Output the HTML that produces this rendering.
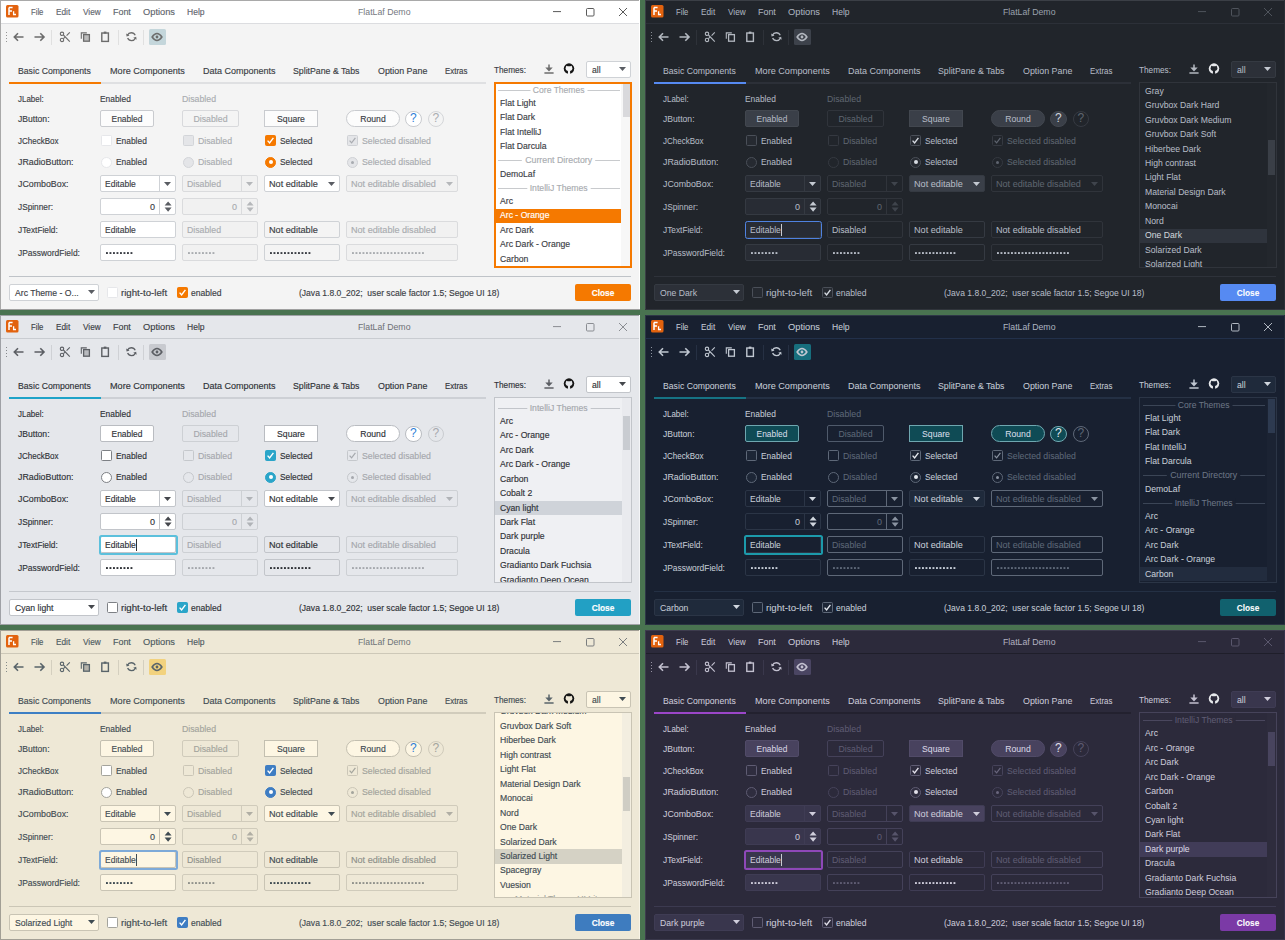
<!DOCTYPE html><html><head><meta charset="utf-8"><style>
html,body{margin:0;padding:0;width:1285px;height:940px;overflow:hidden;background:#497350;}
.panel{position:absolute;width:640px;height:310px;overflow:hidden;font-family:'Liberation Sans', sans-serif;}
.a{position:absolute;}
.t{position:absolute;font-family:'Liberation Sans', sans-serif;font-size:9px;line-height:10px;white-space:pre;transform-origin:0 0;-webkit-text-stroke-width:var(--sw);}
.c{text-align:center;}
</style></head><body>
<div class="panel" style="left:0px;top:0px;background:#f4f4f4;--sw:0.15px">
<div class="a" style="left:0px;top:0px;width:640px;height:24px;background:#ffffff;"></div>
<div class="a" style="left:0px;top:23px;width:640px;height:1px;background:#dcdde0;"></div>
<div class="a" style="left:0px;top:0px;width:640px;height:1px;background:#a9a9a9;"></div>
<div class="a" style="left:0px;top:0px;width:1px;height:310px;background:#a9a9a9;"></div>
<div class="a" style="left:639px;top:0px;width:1px;height:310px;background:#ffffff;"></div>
<div class="a" style="left:0px;top:309px;width:640px;height:1px;background:#a0a0a0;"></div>
<svg class="a" style="left:6px;top:5px;" width="13" height="13" viewBox="0 0 13 13"><rect x="0" y="0" width="12.5" height="12.5" rx="1.5" fill="#e2620e"/><path d="M3 2.6 H6.6 M3 2.6 V10 M3 5.9 H6" stroke="#fff" stroke-width="1.5" fill="none"/><path d="M7.6 6.2 V9.5 H10" stroke="#fff" stroke-width="1.3" fill="none"/></svg>
<div class="t" style="left:30.5px;top:7px;color:#5f656d;transform:scaleX(0.853);">File</div>
<div class="t" style="left:55.5px;top:7px;color:#5f656d;transform:scaleX(0.919);">Edit</div>
<div class="t" style="left:82.5px;top:7px;color:#5f656d;transform:scaleX(0.915);">View</div>
<div class="t" style="left:112.5px;top:7px;color:#5f656d;transform:scaleX(0.989);">Font</div>
<div class="t" style="left:142.5px;top:7px;color:#5f656d;transform:scaleX(1.032);">Options</div>
<div class="t" style="left:186.5px;top:7px;color:#5f656d;transform:scaleX(0.947);">Help</div>
<div class="t" style="left:357.5px;top:7px;color:#75797f;transform:scaleX(0.972);-webkit-text-stroke-width:0">FlatLaf Demo</div>
<svg class="a" style="left:550px;top:5px;" width="80" height="14" viewBox="0 0 80 14"><path d="M3 6.6 H11" stroke="#5a5a5a" stroke-width="1"/><rect x="36.5" y="3.5" width="7.5" height="7.5" rx="1" fill="none" stroke="#5a5a5a" stroke-width="1"/><path d="M69 3 L77 11 M77 3 L69 11" stroke="#5a5a5a" stroke-width="1"/></svg>
<div class="a" style="left:6px;top:32.2px;width:1.3px;height:1.3px;background:#6c6c6c;opacity:.7"></div>
<div class="a" style="left:6px;top:35.2px;width:1.3px;height:1.3px;background:#6c6c6c;opacity:.7"></div>
<div class="a" style="left:6px;top:38.2px;width:1.3px;height:1.3px;background:#6c6c6c;opacity:.7"></div>
<div class="a" style="left:6px;top:41.2px;width:1.3px;height:1.3px;background:#6c6c6c;opacity:.7"></div>
<svg class="a" style="left:12px;top:31px;" width="14" height="12" viewBox="0 0 14 12"><path d="M2.5 6 H11.5 M6 2.3 L2.3 6 L6 9.7" stroke="#6c6c6c" stroke-width="1.6" fill="none"/></svg>
<svg class="a" style="left:32px;top:31px;" width="14" height="12" viewBox="0 0 14 12"><path d="M2.5 6 H11.8 M8.3 2.3 L12 6 L8.3 9.7" stroke="#6c6c6c" stroke-width="1.6" fill="none"/></svg>
<div class="a" style="left:51px;top:29.5px;width:1px;height:15px;background:#e0e0e0;"></div>
<div class="a" style="left:117.5px;top:29.5px;width:1px;height:15px;background:#e0e0e0;"></div>
<div class="a" style="left:143px;top:29.5px;width:1px;height:15px;background:#e0e0e0;"></div>
<svg class="a" style="left:58px;top:30px;" width="14" height="14" viewBox="0 0 14 14"><circle cx="4" cy="3.8" r="1.7" fill="none" stroke="#6c6c6c" stroke-width="1.1"/><circle cx="4" cy="9.9" r="1.7" fill="none" stroke="#6c6c6c" stroke-width="1.1"/><path d="M5.4 5 L11.8 11.6 M5.4 8.7 L7.6 6.6 M8.6 5.6 L11.8 2.3" stroke="#6c6c6c" stroke-width="1.1" fill="none"/></svg>
<svg class="a" style="left:79px;top:30px;" width="13" height="13" viewBox="0 0 13 13"><path d="M2.3 8.7 V2.9 H7.8" stroke="#6c6c6c" stroke-width="1.1" fill="none"/><rect x="4.6" y="4.6" width="5.8" height="6.6" fill="#bdbdbd" stroke="#6c6c6c" stroke-width="1.3"/></svg>
<svg class="a" style="left:99px;top:30px;" width="13" height="13" viewBox="0 0 13 13"><rect x="2.8" y="3" width="6.6" height="8.4" fill="none" stroke="#6c6c6c" stroke-width="1.4"/><rect x="4.8" y="1.6" width="2.6" height="2" fill="#6c6c6c"/></svg>
<svg class="a" style="left:125px;top:30px;" width="13" height="13" viewBox="0 0 13 13"><path d="M2.4 5.2 A4.3 4.3 0 0 1 10.2 5.3" stroke="#6c6c6c" stroke-width="1.3" fill="none"/><path d="M10.4 8.2 A4.3 4.3 0 0 1 2.6 8.1" stroke="#6c6c6c" stroke-width="1.3" fill="none"/><path d="M1.2 3.6 L4.6 5.6 L1.6 6.6 Z" fill="#6c6c6c"/><path d="M11.6 9.8 L8.2 7.8 L11.2 6.8 Z" fill="#6c6c6c"/></svg>
<div class="a" style="left:148.5px;top:29px;width:17px;height:16px;background:#c4d6db;border-radius:1.5px;"></div>
<svg class="a" style="left:150px;top:31px;" width="14" height="12" viewBox="0 0 14 12"><path d="M2.1 6 Q7 -0.9 11.9 6 Q7 12.9 2.1 6 Z" fill="none" stroke="#6c6c6c" stroke-width="1.5"/><circle cx="7" cy="6" r="1.4" fill="#6c6c6c"/></svg>
<div class="t" style="left:18px;top:66px;color:#3b3e45;transform:scaleX(0.964);">Basic Components</div>
<div class="t" style="left:109.5px;top:66px;color:#3b3e45;transform:scaleX(1.011);">More Components</div>
<div class="t" style="left:203px;top:66px;color:#3b3e45;">Data Components</div>
<div class="t" style="left:292.5px;top:66px;color:#3b3e45;transform:scaleX(0.972);">SplitPane &amp; Tabs</div>
<div class="t" style="left:377.5px;top:66px;color:#3b3e45;transform:scaleX(0.986);">Option Pane</div>
<div class="t" style="left:445px;top:66px;color:#3b3e45;transform:scaleX(0.877);">Extras</div>
<div class="a" style="left:9px;top:82px;width:477px;height:2px;background:#dfe0e2;"></div>
<div class="a" style="left:9px;top:82px;width:92px;height:2px;background:#f57900;"></div>
<div class="t" style="left:17.5px;top:94px;color:#3b3e45;transform:scaleX(0.883);">JLabel:</div>
<div class="t" style="left:17.5px;top:114px;color:#3b3e45;transform:scaleX(0.955);">JButton:</div>
<div class="t" style="left:17.5px;top:136px;color:#3b3e45;transform:scaleX(0.891);">JCheckBox</div>
<div class="t" style="left:17.5px;top:157px;color:#3b3e45;transform:scaleX(0.982);">JRadioButton:</div>
<div class="t" style="left:17.5px;top:179px;color:#3b3e45;transform:scaleX(0.980);">JComboBox:</div>
<div class="t" style="left:17.5px;top:202px;color:#3b3e45;transform:scaleX(0.921);">JSpinner:</div>
<div class="t" style="left:17.5px;top:225px;color:#3b3e45;transform:scaleX(0.923);">JTextField:</div>
<div class="t" style="left:17.5px;top:248px;color:#3b3e45;transform:scaleX(0.938);">JPasswordField:</div>
<div class="t" style="left:99.5px;top:94px;color:#3b3e45;transform:scaleX(0.933);">Enabled</div>
<div class="t" style="left:181.5px;top:94px;color:#a9acb0;transform:scaleX(0.971);">Disabled</div>
<div class="a" style="left:100px;top:110px;width:54px;height:17px;background:#fcfcfc;border:1px solid #c9cbcf;border-radius:2px;box-sizing:border-box;"></div>
<div class="t c" style="left:100px;top:114px;width:54px;color:#3b3e45;transform:scaleX(0.933);transform-origin:50% 0;">Enabled</div>
<div class="a" style="left:182px;top:110px;width:57px;height:17px;background:#f4f4f4;border:1px solid #d8d9dc;border-radius:2px;box-sizing:border-box;"></div>
<div class="t c" style="left:182px;top:114px;width:57px;color:#a9acb0;transform:scaleX(0.971);transform-origin:50% 0;">Disabled</div>
<div class="a" style="left:264px;top:110px;width:54px;height:17px;background:#fcfcfc;border:1px solid #c9cbcf;box-sizing:border-box;"></div>
<div class="t c" style="left:264px;top:114px;width:54px;color:#3b3e45;transform:scaleX(0.960);transform-origin:50% 0;">Square</div>
<div class="a" style="left:346px;top:110px;width:54px;height:17px;background:#fcfcfc;border:1px solid #c9cbcf;border-radius:9px;box-sizing:border-box;"></div>
<div class="t c" style="left:346px;top:114px;width:54px;color:#3b3e45;transform:scaleX(0.960);transform-origin:50% 0;">Round</div>
<div class="a" style="left:405px;top:110.5px;width:16.5px;height:16.5px;background:#ffffff;border:1px solid #c9cbcf;border-radius:9px;box-sizing:border-box;"></div>
<div class="t c" style="left:405px;top:111.5px;width:16.5px;color:#2f7fd8;font-size:12px;line-height:13px;-webkit-text-stroke-width:0">?</div>
<div class="a" style="left:427.5px;top:110.5px;width:16.5px;height:16.5px;border:1px solid #d4d6d9;border-radius:9px;box-sizing:border-box;"></div>
<div class="t c" style="left:427.5px;top:111.5px;width:16.5px;color:#a9acb0;font-size:12px;line-height:13px;-webkit-text-stroke-width:0">?</div>
<div class="a" style="left:101px;top:135px;width:11px;height:11px;background:#ffffff;border:1px solid #e6e7ea;border-radius:1.5px;box-sizing:border-box;"></div>
<div class="t" style="left:115.5px;top:136px;color:#3b3e45;transform:scaleX(0.933);">Enabled</div>
<div class="a" style="left:101px;top:156.5px;width:11px;height:11px;background:#ffffff;border:1px solid #e6e7ea;border-radius:6px;box-sizing:border-box;"></div>
<div class="t" style="left:115.5px;top:157px;color:#3b3e45;transform:scaleX(0.933);">Enabled</div>
<div class="a" style="left:183px;top:135px;width:11px;height:11px;background:#e4e5e8;border:1px solid #d3d5d9;border-radius:1.5px;box-sizing:border-box;"></div>
<div class="t" style="left:197.5px;top:136px;color:#a9acb0;transform:scaleX(0.971);">Disabled</div>
<div class="a" style="left:183px;top:156.5px;width:11px;height:11px;background:#e4e5e8;border:1px solid #d3d5d9;border-radius:6px;box-sizing:border-box;"></div>
<div class="t" style="left:197.5px;top:157px;color:#a9acb0;transform:scaleX(0.971);">Disabled</div>
<div class="a" style="left:265px;top:135px;width:11px;height:11px;background:#f57900;border:1px solid #f57900;border-radius:1.5px;box-sizing:border-box;"></div>
<svg class="a" style="left:265px;top:135px;" width="11" height="11" viewBox="0 0 11 11"><path d="M2.6 5.6 L4.6 7.9 L8.4 2.8" stroke="#ffffff" stroke-width="1.4" fill="none"/></svg>
<div class="t" style="left:279.5px;top:136px;color:#3b3e45;transform:scaleX(0.926);">Selected</div>
<div class="a" style="left:265px;top:156.5px;width:11px;height:11px;background:#f57900;border:1px solid #f57900;border-radius:6px;box-sizing:border-box;"></div>
<div class="a" style="left:268.5px;top:160.0px;width:4px;height:4px;background:#ffffff;border-radius:2px;"></div>
<div class="t" style="left:279.5px;top:157px;color:#3b3e45;transform:scaleX(0.926);">Selected</div>
<div class="a" style="left:347px;top:135px;width:11px;height:11px;background:#e4e5e8;border:1px solid #cfd1d5;border-radius:1.5px;box-sizing:border-box;"></div>
<svg class="a" style="left:347px;top:135px;" width="11" height="11" viewBox="0 0 11 11"><path d="M2.6 5.6 L4.6 7.9 L8.4 2.8" stroke="#a8abb0" stroke-width="1.2" fill="none"/></svg>
<div class="t" style="left:361.5px;top:136px;color:#a9acb0;transform:scaleX(0.969);">Selected disabled</div>
<div class="a" style="left:347px;top:156.5px;width:11px;height:11px;background:#e4e5e8;border:1px solid #cfd1d5;border-radius:6px;box-sizing:border-box;"></div>
<div class="a" style="left:351px;top:160.5px;width:3px;height:3px;background:#a8abb0;border-radius:2px;"></div>
<div class="t" style="left:361.5px;top:157px;color:#a9acb0;transform:scaleX(0.969);">Selected disabled</div>
<div class="a" style="left:100px;top:175px;width:76px;height:17px;background:#ffffff;border:1px solid #cfd2d6;border-radius:2px;box-sizing:border-box;"></div>
<div class="a" style="left:159px;top:176px;width:1px;height:15px;background:#cfd2d6;"></div>
<svg class="a" style="left:163.1px;top:180.75px;" width="9.0" height="5.9" viewBox="0 0 9.0 5.9"><path d="M1 1 L8.0 1 L4.5 4.9 Z" fill="#5a5d63"/></svg>
<div class="t" style="left:105px;top:179px;color:#3b3e45;transform:scaleX(0.948);">Editable</div>
<div class="a" style="left:182px;top:175px;width:76px;height:17px;background:#f1f1f1;border:1px solid #dadbdd;border-radius:2px;box-sizing:border-box;"></div>
<div class="a" style="left:241px;top:176px;width:1px;height:15px;background:#dadbdd;"></div>
<svg class="a" style="left:245.1px;top:180.75px;" width="9.0" height="5.9" viewBox="0 0 9.0 5.9"><path d="M1 1 L8.0 1 L4.5 4.9 Z" fill="#b5b7ba"/></svg>
<div class="t" style="left:187px;top:179px;color:#a9acb0;transform:scaleX(0.971);">Disabled</div>
<div class="a" style="left:264px;top:175px;width:76px;height:17px;background:#ffffff;border:1px solid #cfd2d6;border-radius:2px;box-sizing:border-box;"></div>
<svg class="a" style="left:327.1px;top:180.75px;" width="9.0" height="5.9" viewBox="0 0 9.0 5.9"><path d="M1 1 L8.0 1 L4.5 4.9 Z" fill="#5a5d63"/></svg>
<div class="t" style="left:269px;top:179px;color:#3b3e45;transform:scaleX(1.015);">Not editable</div>
<div class="a" style="left:346px;top:175px;width:112px;height:17px;background:#f1f1f1;border:1px solid #dadbdd;border-radius:2px;box-sizing:border-box;"></div>
<svg class="a" style="left:444.9px;top:180.75px;" width="9.0" height="5.9" viewBox="0 0 9.0 5.9"><path d="M1 1 L8.0 1 L4.5 4.9 Z" fill="#b5b7ba"/></svg>
<div class="t" style="left:351px;top:179px;color:#a9acb0;transform:scaleX(1.010);">Not editable disabled</div>
<div class="a" style="left:100px;top:198px;width:76px;height:17px;background:#ffffff;border:1px solid #cfd2d6;border-radius:2px;box-sizing:border-box;"></div>
<div class="a" style="left:159px;top:199px;width:1px;height:15px;background:#cfd2d6;"></div>
<svg class="a" style="left:163.5px;top:200px;" width="9" height="13" viewBox="0 0 9 13"><path d="M0.6 5.6 L4.1 1.4 L7.6 5.6 Z M0.6 7.5 L4.1 11.7 L7.6 7.5 Z" fill="#5a5d63"/></svg>
<div class="t" style="left:100px;top:202px;width:55px;text-align:right;color:#3b3e45">0</div>
<div class="a" style="left:182px;top:198px;width:76px;height:17px;background:#f1f1f1;border:1px solid #dadbdd;border-radius:2px;box-sizing:border-box;"></div>
<div class="a" style="left:241px;top:199px;width:1px;height:15px;background:#dadbdd;"></div>
<svg class="a" style="left:245.5px;top:200px;" width="9" height="13" viewBox="0 0 9 13"><path d="M0.6 5.6 L4.1 1.4 L7.6 5.6 Z M0.6 7.5 L4.1 11.7 L7.6 7.5 Z" fill="#b5b7ba"/></svg>
<div class="t" style="left:182px;top:202px;width:55px;text-align:right;color:#a9acb0">0</div>
<div class="a" style="left:100px;top:221px;width:76px;height:17px;background:#ffffff;border:1px solid #cfd2d6;border-radius:2px;box-sizing:border-box;"></div>
<div class="t" style="left:105px;top:225px;color:#3b3e45;transform:scaleX(0.948);">Editable</div>
<div class="a" style="left:182px;top:221px;width:76px;height:17px;background:#f1f1f1;border:1px solid #dadbdd;border-radius:2px;box-sizing:border-box;"></div>
<div class="t" style="left:187px;top:225px;color:#a9acb0;transform:scaleX(0.971);">Disabled</div>
<div class="a" style="left:264px;top:221px;width:76px;height:17px;background:#f4f4f4;border:1px solid #cfd2d6;border-radius:2px;box-sizing:border-box;"></div>
<div class="t" style="left:269px;top:225px;color:#3b3e45;transform:scaleX(1.015);">Not editable</div>
<div class="a" style="left:346px;top:221px;width:112px;height:17px;background:#f1f1f1;border:1px solid #dadbdd;border-radius:2px;box-sizing:border-box;"></div>
<div class="t" style="left:351px;top:225px;color:#a9acb0;transform:scaleX(1.010);">Not editable disabled</div>
<div class="a" style="left:100px;top:244px;width:76px;height:17px;background:#ffffff;border:1px solid #cfd2d6;border-radius:2px;box-sizing:border-box;"></div>
<svg class="a" style="left:105px;top:251.8px;" width="31.6" height="3" viewBox="0 0 31.6 3"><rect x="1.00" y="0.1" width="1.9" height="1.9" fill="#3b3e45"/><rect x="4.50" y="0.1" width="1.9" height="1.9" fill="#3b3e45"/><rect x="8.00" y="0.1" width="1.9" height="1.9" fill="#3b3e45"/><rect x="11.50" y="0.1" width="1.9" height="1.9" fill="#3b3e45"/><rect x="15.00" y="0.1" width="1.9" height="1.9" fill="#3b3e45"/><rect x="18.50" y="0.1" width="1.9" height="1.9" fill="#3b3e45"/><rect x="22.00" y="0.1" width="1.9" height="1.9" fill="#3b3e45"/><rect x="25.50" y="0.1" width="1.9" height="1.9" fill="#3b3e45"/></svg>
<div class="a" style="left:182px;top:244px;width:76px;height:17px;background:#f1f1f1;border:1px solid #dadbdd;border-radius:2px;box-sizing:border-box;"></div>
<svg class="a" style="left:187px;top:251.8px;" width="31.6" height="3" viewBox="0 0 31.6 3"><rect x="1.00" y="0.1" width="1.9" height="1.9" fill="#a9acb0"/><rect x="4.50" y="0.1" width="1.9" height="1.9" fill="#a9acb0"/><rect x="8.00" y="0.1" width="1.9" height="1.9" fill="#a9acb0"/><rect x="11.50" y="0.1" width="1.9" height="1.9" fill="#a9acb0"/><rect x="15.00" y="0.1" width="1.9" height="1.9" fill="#a9acb0"/><rect x="18.50" y="0.1" width="1.9" height="1.9" fill="#a9acb0"/><rect x="22.00" y="0.1" width="1.9" height="1.9" fill="#a9acb0"/><rect x="25.50" y="0.1" width="1.9" height="1.9" fill="#a9acb0"/></svg>
<div class="a" style="left:264px;top:244px;width:76px;height:17px;background:#f4f4f4;border:1px solid #cfd2d6;border-radius:2px;box-sizing:border-box;"></div>
<svg class="a" style="left:269px;top:251.8px;" width="46.400000000000006" height="3" viewBox="0 0 46.400000000000006 3"><rect x="1.00" y="0.1" width="1.9" height="1.9" fill="#3b3e45"/><rect x="4.50" y="0.1" width="1.9" height="1.9" fill="#3b3e45"/><rect x="8.00" y="0.1" width="1.9" height="1.9" fill="#3b3e45"/><rect x="11.50" y="0.1" width="1.9" height="1.9" fill="#3b3e45"/><rect x="15.00" y="0.1" width="1.9" height="1.9" fill="#3b3e45"/><rect x="18.50" y="0.1" width="1.9" height="1.9" fill="#3b3e45"/><rect x="22.00" y="0.1" width="1.9" height="1.9" fill="#3b3e45"/><rect x="25.50" y="0.1" width="1.9" height="1.9" fill="#3b3e45"/><rect x="29.00" y="0.1" width="1.9" height="1.9" fill="#3b3e45"/><rect x="32.50" y="0.1" width="1.9" height="1.9" fill="#3b3e45"/><rect x="36.00" y="0.1" width="1.9" height="1.9" fill="#3b3e45"/><rect x="39.50" y="0.1" width="1.9" height="1.9" fill="#3b3e45"/></svg>
<div class="a" style="left:346px;top:244px;width:112px;height:17px;background:#f1f1f1;border:1px solid #dadbdd;border-radius:2px;box-sizing:border-box;"></div>
<svg class="a" style="left:351px;top:251.8px;" width="79.7" height="3" viewBox="0 0 79.7 3"><rect x="1.00" y="0.1" width="1.9" height="1.9" fill="#a9acb0"/><rect x="4.50" y="0.1" width="1.9" height="1.9" fill="#a9acb0"/><rect x="8.00" y="0.1" width="1.9" height="1.9" fill="#a9acb0"/><rect x="11.50" y="0.1" width="1.9" height="1.9" fill="#a9acb0"/><rect x="15.00" y="0.1" width="1.9" height="1.9" fill="#a9acb0"/><rect x="18.50" y="0.1" width="1.9" height="1.9" fill="#a9acb0"/><rect x="22.00" y="0.1" width="1.9" height="1.9" fill="#a9acb0"/><rect x="25.50" y="0.1" width="1.9" height="1.9" fill="#a9acb0"/><rect x="29.00" y="0.1" width="1.9" height="1.9" fill="#a9acb0"/><rect x="32.50" y="0.1" width="1.9" height="1.9" fill="#a9acb0"/><rect x="36.00" y="0.1" width="1.9" height="1.9" fill="#a9acb0"/><rect x="39.50" y="0.1" width="1.9" height="1.9" fill="#a9acb0"/><rect x="43.00" y="0.1" width="1.9" height="1.9" fill="#a9acb0"/><rect x="46.50" y="0.1" width="1.9" height="1.9" fill="#a9acb0"/><rect x="50.00" y="0.1" width="1.9" height="1.9" fill="#a9acb0"/><rect x="53.50" y="0.1" width="1.9" height="1.9" fill="#a9acb0"/><rect x="57.00" y="0.1" width="1.9" height="1.9" fill="#a9acb0"/><rect x="60.50" y="0.1" width="1.9" height="1.9" fill="#a9acb0"/><rect x="64.00" y="0.1" width="1.9" height="1.9" fill="#a9acb0"/><rect x="67.50" y="0.1" width="1.9" height="1.9" fill="#a9acb0"/><rect x="71.00" y="0.1" width="1.9" height="1.9" fill="#a9acb0"/></svg>
<div class="t" style="left:494px;top:65px;color:#3b3e45;transform:scaleX(0.914);">Themes:</div>
<svg class="a" style="left:543px;top:63px;" width="12" height="12" viewBox="0 0 12 12"><path d="M6 1.4 V6.5" stroke="#6c6c6c" stroke-width="1.5"/><path d="M2.3 4.6 L9.7 4.6 L6 8.4 Z" fill="#6c6c6c"/><path d="M1.4 10 H10.6" stroke="#6c6c6c" stroke-width="1.5"/></svg>
<svg class="a" style="left:563px;top:63px;" width="12" height="12" viewBox="0 0 12 12"><circle cx="6" cy="5.6" r="5.25" fill="#151515"/><path d="M2.9 4.3 L3.3 2.7 L4.7 3.3 Q6 3.0 7.3 3.3 L8.7 2.7 L9.1 4.3 Q9.6 5 9.4 6 Q9.0 7.6 7.1 7.9 V11.2 H4.9 V7.9 Q3.0 7.6 2.6 6 Q2.4 5 2.9 4.3 Z" fill="#f4f4f4"/><path d="M2.4 8.2 Q3.4 9.7 4.9 9.4" stroke="#151515" stroke-width="0.9" fill="none"/></svg>
<div class="a" style="left:586px;top:60.5px;width:45px;height:17px;background:#ffffff;border:1px solid #cfd2d6;border-radius:2px;box-sizing:border-box;"></div>
<div class="t" style="left:591.5px;top:65px;color:#3b3e45;transform:scaleX(0.960);">all</div>
<svg class="a" style="left:618.0px;top:66.35px;" width="9.0" height="5.9" viewBox="0 0 9.0 5.9"><path d="M1 1 L8.0 1 L4.5 4.9 Z" fill="#5a5d63"/></svg>
<div class="a" style="left:494px;top:81.5px;width:137.5px;height:186px;background:#ffffff;border:2px solid #f57900;box-sizing:border-box;"></div>
<div class="a" style="left:496px;top:83.5px;width:133.5px;height:182.0px;overflow:hidden">
<div class="a" style="left:2px;top:6.2px;width:121.5px;height:1px;background:#c8cacd"></div>
<div class="t c" style="left:0px;top:1.2px;width:125.4px;color:#a9acb0;transform:scaleX(0.950);transform-origin:50% 0"><span style="background:#ffffff;padding:0 3px">Core Themes</span></div>
<div class="t" style="left:4px;top:14.499999999999996px;color:#3b3e45;transform:scaleX(0.962)">Flat Light</div>
<div class="t" style="left:4px;top:28.95px;color:#3b3e45;transform:scaleX(0.960)">Flat Dark</div>
<div class="t" style="left:4px;top:43.400000000000006px;color:#3b3e45;transform:scaleX(0.960)">Flat IntelliJ</div>
<div class="t" style="left:4px;top:57.85000000000001px;color:#3b3e45;transform:scaleX(0.960)">Flat Darcula</div>
<div class="a" style="left:2px;top:76.80000000000003px;width:121.5px;height:1px;background:#c8cacd"></div>
<div class="t c" style="left:0px;top:71.80000000000003px;width:125.4px;color:#a9acb0;transform:scaleX(0.978);transform-origin:50% 0"><span style="background:#ffffff;padding:0 3px">Current Directory</span></div>
<div class="t" style="left:4px;top:85.10000000000001px;color:#3b3e45;transform:scaleX(0.960)">DemoLaf</div>
<div class="a" style="left:2px;top:104.05000000000003px;width:121.5px;height:1px;background:#c8cacd"></div>
<div class="t c" style="left:0px;top:99.05000000000003px;width:125.4px;color:#a9acb0;transform:scaleX(0.960);transform-origin:50% 0"><span style="background:#ffffff;padding:0 3px">IntelliJ Themes</span></div>
<div class="t" style="left:4px;top:112.35000000000001px;color:#3b3e45;transform:scaleX(0.960)">Arc</div>
<div class="a" style="left:0px;top:125.10000000000002px;width:125.5px;height:14.45px;background:#f57900"></div>
<div class="t" style="left:4px;top:126.80000000000003px;color:#ffffff;transform:scaleX(0.960)">Arc - Orange</div>
<div class="t" style="left:4px;top:141.25px;color:#3b3e45;transform:scaleX(0.960)">Arc Dark</div>
<div class="t" style="left:4px;top:155.7px;color:#3b3e45;transform:scaleX(0.960)">Arc Dark - Orange</div>
<div class="t" style="left:4px;top:170.14999999999998px;color:#3b3e45;transform:scaleX(0.960)">Carbon</div>
<div class="t" style="left:4px;top:184.59999999999997px;color:#3b3e45;transform:scaleX(0.960)">Cobalt 2</div>
<div class="a" style="left:124.5px;top:0;width:9px;height:182.0px;background:#f7f7f7"></div>
<div class="a" style="left:126.79999999999995px;top:-0.29999999999999716px;width:7px;height:33.8px;background:#d9d9dc"></div>
</div>
<div class="a" style="left:9px;top:276px;width:622px;height:1px;background:#bfc3c8;"></div>
<div class="a" style="left:9px;top:284px;width:90px;height:17px;background:#ffffff;border:1px solid #cfd2d6;border-radius:2px;box-sizing:border-box;"></div>
<div class="t" style="left:15px;top:288px;color:#3b3e45;transform:scaleX(0.960);">Arc Theme - O...</div>
<svg class="a" style="left:86.5px;top:289.35px;" width="9.0" height="5.9" viewBox="0 0 9.0 5.9"><path d="M1 1 L8.0 1 L4.5 4.9 Z" fill="#5a5d63"/></svg>
<div class="a" style="left:107px;top:286.5px;width:11px;height:11px;background:#ffffff;border:1px solid #e6e7ea;border-radius:1.5px;box-sizing:border-box;"></div>
<div class="t" style="left:121px;top:288px;color:#3b3e45;transform:scaleX(1.074);">right-to-left</div>
<div class="a" style="left:176.5px;top:286.5px;width:11px;height:11px;background:#f57900;border:1px solid #f57900;border-radius:1.5px;box-sizing:border-box;"></div>
<svg class="a" style="left:176.5px;top:286.5px;" width="11" height="11" viewBox="0 0 11 11"><path d="M2.6 5.6 L4.6 7.9 L8.4 2.8" stroke="#ffffff" stroke-width="1.4" fill="none"/></svg>
<div class="t" style="left:191px;top:288px;color:#3b3e45;transform:scaleX(0.950);">enabled</div>
<div class="t" style="left:299px;top:288px;color:#3b3e45;transform:scaleX(0.949);">(Java 1.8.0_202;  user scale factor 1.5; Segoe UI 18)</div>
<div class="a" style="left:575px;top:284px;width:56px;height:17px;background:#f57900;border-radius:2px;"></div>
<div class="t c" style="left:575px;top:288px;width:56px;color:#ffffff;font-weight:bold;transform:scaleX(0.92);transform-origin:50% 0">Close</div>
</div>
<div class="panel" style="left:645px;top:0px;background:#21252b;--sw:0.05px">
<div class="a" style="left:0px;top:0px;width:640px;height:24px;background:#21252b;"></div>
<div class="a" style="left:0px;top:23px;width:640px;height:1px;background:#2c3038;"></div>
<div class="a" style="left:0px;top:0px;width:640px;height:1px;background:#3b3f46;"></div>
<div class="a" style="left:0px;top:0px;width:1px;height:310px;background:#3b3f46;"></div>
<div class="a" style="left:639px;top:0px;width:1px;height:310px;background:#2a2e35;"></div>
<div class="a" style="left:0px;top:309px;width:640px;height:1px;background:#30343b;"></div>
<svg class="a" style="left:6px;top:5px;" width="13" height="13" viewBox="0 0 13 13"><rect x="0" y="0" width="12.5" height="12.5" rx="1.5" fill="#e2620e"/><path d="M3 2.6 H6.6 M3 2.6 V10 M3 5.9 H6" stroke="#fff" stroke-width="1.5" fill="none"/><path d="M7.6 6.2 V9.5 H10" stroke="#fff" stroke-width="1.3" fill="none"/></svg>
<div class="t" style="left:30.5px;top:7px;color:#abb2bf;transform:scaleX(0.853);">File</div>
<div class="t" style="left:55.5px;top:7px;color:#abb2bf;transform:scaleX(0.919);">Edit</div>
<div class="t" style="left:82.5px;top:7px;color:#abb2bf;transform:scaleX(0.915);">View</div>
<div class="t" style="left:112.5px;top:7px;color:#abb2bf;transform:scaleX(0.989);">Font</div>
<div class="t" style="left:142.5px;top:7px;color:#abb2bf;transform:scaleX(1.032);">Options</div>
<div class="t" style="left:186.5px;top:7px;color:#abb2bf;transform:scaleX(0.947);">Help</div>
<div class="t" style="left:357.5px;top:7px;color:#9aa1ad;transform:scaleX(0.972);-webkit-text-stroke-width:0">FlatLaf Demo</div>
<svg class="a" style="left:550px;top:5px;" width="80" height="14" viewBox="0 0 80 14"><path d="M3 6.6 H11" stroke="#4f545c" stroke-width="1"/><rect x="36.5" y="3.5" width="7.5" height="7.5" rx="1" fill="none" stroke="#4f545c" stroke-width="1"/><path d="M69 3 L77 11 M77 3 L69 11" stroke="#4f545c" stroke-width="1"/></svg>
<div class="a" style="left:6px;top:32.2px;width:1.3px;height:1.3px;background:#b3b8c0;opacity:.7"></div>
<div class="a" style="left:6px;top:35.2px;width:1.3px;height:1.3px;background:#b3b8c0;opacity:.7"></div>
<div class="a" style="left:6px;top:38.2px;width:1.3px;height:1.3px;background:#b3b8c0;opacity:.7"></div>
<div class="a" style="left:6px;top:41.2px;width:1.3px;height:1.3px;background:#b3b8c0;opacity:.7"></div>
<svg class="a" style="left:12px;top:31px;" width="14" height="12" viewBox="0 0 14 12"><path d="M2.5 6 H11.5 M6 2.3 L2.3 6 L6 9.7" stroke="#b3b8c0" stroke-width="1.6" fill="none"/></svg>
<svg class="a" style="left:32px;top:31px;" width="14" height="12" viewBox="0 0 14 12"><path d="M2.5 6 H11.8 M8.3 2.3 L12 6 L8.3 9.7" stroke="#b3b8c0" stroke-width="1.6" fill="none"/></svg>
<div class="a" style="left:51px;top:29.5px;width:1px;height:15px;background:#2e3239;"></div>
<div class="a" style="left:117.5px;top:29.5px;width:1px;height:15px;background:#2e3239;"></div>
<div class="a" style="left:143px;top:29.5px;width:1px;height:15px;background:#2e3239;"></div>
<svg class="a" style="left:58px;top:30px;" width="14" height="14" viewBox="0 0 14 14"><circle cx="4" cy="3.8" r="1.7" fill="none" stroke="#b3b8c0" stroke-width="1.1"/><circle cx="4" cy="9.9" r="1.7" fill="none" stroke="#b3b8c0" stroke-width="1.1"/><path d="M5.4 5 L11.8 11.6 M5.4 8.7 L7.6 6.6 M8.6 5.6 L11.8 2.3" stroke="#b3b8c0" stroke-width="1.1" fill="none"/></svg>
<svg class="a" style="left:79px;top:30px;" width="13" height="13" viewBox="0 0 13 13"><path d="M2.3 8.7 V2.9 H7.8" stroke="#b3b8c0" stroke-width="1.1" fill="none"/><rect x="4.6" y="4.6" width="5.8" height="6.6" fill="#21252b" stroke="#b3b8c0" stroke-width="1.3"/></svg>
<svg class="a" style="left:99px;top:30px;" width="13" height="13" viewBox="0 0 13 13"><rect x="2.8" y="3" width="6.6" height="8.4" fill="#21252b" stroke="#b3b8c0" stroke-width="1.4"/><rect x="4.8" y="1.6" width="2.6" height="2" fill="#b3b8c0"/></svg>
<svg class="a" style="left:125px;top:30px;" width="13" height="13" viewBox="0 0 13 13"><path d="M2.4 5.2 A4.3 4.3 0 0 1 10.2 5.3" stroke="#b3b8c0" stroke-width="1.3" fill="none"/><path d="M10.4 8.2 A4.3 4.3 0 0 1 2.6 8.1" stroke="#b3b8c0" stroke-width="1.3" fill="none"/><path d="M1.2 3.6 L4.6 5.6 L1.6 6.6 Z" fill="#b3b8c0"/><path d="M11.6 9.8 L8.2 7.8 L11.2 6.8 Z" fill="#b3b8c0"/></svg>
<div class="a" style="left:148.5px;top:29px;width:17px;height:16px;background:#3d424b;border-radius:1.5px;"></div>
<svg class="a" style="left:150px;top:31px;" width="14" height="12" viewBox="0 0 14 12"><path d="M2.1 6 Q7 -0.9 11.9 6 Q7 12.9 2.1 6 Z" fill="none" stroke="#b3b8c0" stroke-width="1.5"/><circle cx="7" cy="6" r="1.4" fill="#b3b8c0"/></svg>
<div class="t" style="left:18px;top:66px;color:#b4bac4;transform:scaleX(0.964);">Basic Components</div>
<div class="t" style="left:109.5px;top:66px;color:#b4bac4;transform:scaleX(1.011);">More Components</div>
<div class="t" style="left:203px;top:66px;color:#b4bac4;">Data Components</div>
<div class="t" style="left:292.5px;top:66px;color:#b4bac4;transform:scaleX(0.972);">SplitPane &amp; Tabs</div>
<div class="t" style="left:377.5px;top:66px;color:#b4bac4;transform:scaleX(0.986);">Option Pane</div>
<div class="t" style="left:445px;top:66px;color:#b4bac4;transform:scaleX(0.877);">Extras</div>
<div class="a" style="left:9px;top:82px;width:477px;height:2px;background:#2c3038;"></div>
<div class="a" style="left:9px;top:82px;width:92px;height:2px;background:#568af2;"></div>
<div class="t" style="left:17.5px;top:94px;color:#b4bac4;transform:scaleX(0.883);">JLabel:</div>
<div class="t" style="left:17.5px;top:114px;color:#b4bac4;transform:scaleX(0.955);">JButton:</div>
<div class="t" style="left:17.5px;top:136px;color:#b4bac4;transform:scaleX(0.891);">JCheckBox</div>
<div class="t" style="left:17.5px;top:157px;color:#b4bac4;transform:scaleX(0.982);">JRadioButton:</div>
<div class="t" style="left:17.5px;top:179px;color:#b4bac4;transform:scaleX(0.980);">JComboBox:</div>
<div class="t" style="left:17.5px;top:202px;color:#b4bac4;transform:scaleX(0.921);">JSpinner:</div>
<div class="t" style="left:17.5px;top:225px;color:#b4bac4;transform:scaleX(0.923);">JTextField:</div>
<div class="t" style="left:17.5px;top:248px;color:#b4bac4;transform:scaleX(0.938);">JPasswordField:</div>
<div class="t" style="left:99.5px;top:94px;color:#b4bac4;transform:scaleX(0.933);">Enabled</div>
<div class="t" style="left:181.5px;top:94px;color:#5f6570;transform:scaleX(0.971);">Disabled</div>
<div class="a" style="left:100px;top:110px;width:54px;height:17px;background:#3a3f48;border:1px solid #42474f;border-radius:2px;box-sizing:border-box;"></div>
<div class="t c" style="left:100px;top:114px;width:54px;color:#b4bac4;transform:scaleX(0.933);transform-origin:50% 0;">Enabled</div>
<div class="a" style="left:182px;top:110px;width:57px;height:17px;background:#21252b;border:1px solid #30343b;border-radius:2px;box-sizing:border-box;"></div>
<div class="t c" style="left:182px;top:114px;width:57px;color:#5f6570;transform:scaleX(0.971);transform-origin:50% 0;">Disabled</div>
<div class="a" style="left:264px;top:110px;width:54px;height:17px;background:#3a3f48;border:1px solid #42474f;box-sizing:border-box;"></div>
<div class="t c" style="left:264px;top:114px;width:54px;color:#b4bac4;transform:scaleX(0.960);transform-origin:50% 0;">Square</div>
<div class="a" style="left:346px;top:110px;width:54px;height:17px;background:#3a3f48;border:1px solid #42474f;border-radius:9px;box-sizing:border-box;"></div>
<div class="t c" style="left:346px;top:114px;width:54px;color:#b4bac4;transform:scaleX(0.960);transform-origin:50% 0;">Round</div>
<div class="a" style="left:405px;top:110.5px;width:16.5px;height:16.5px;background:#3a3f48;border:1px solid #42474f;border-radius:9px;box-sizing:border-box;"></div>
<div class="t c" style="left:405px;top:111.5px;width:16.5px;color:#d0d4db;font-size:12px;line-height:13px;-webkit-text-stroke-width:0">?</div>
<div class="a" style="left:427.5px;top:110.5px;width:16.5px;height:16.5px;border:1px solid #363a42;border-radius:9px;box-sizing:border-box;"></div>
<div class="t c" style="left:427.5px;top:111.5px;width:16.5px;color:#5f6570;font-size:12px;line-height:13px;-webkit-text-stroke-width:0">?</div>
<div class="a" style="left:101px;top:135px;width:11px;height:11px;background:#262a31;border:1px solid #4a4f58;border-radius:1.5px;box-sizing:border-box;"></div>
<div class="t" style="left:115.5px;top:136px;color:#b4bac4;transform:scaleX(0.933);">Enabled</div>
<div class="a" style="left:101px;top:156.5px;width:11px;height:11px;background:#262a31;border:1px solid #4a4f58;border-radius:6px;box-sizing:border-box;"></div>
<div class="t" style="left:115.5px;top:157px;color:#b4bac4;transform:scaleX(0.933);">Enabled</div>
<div class="a" style="left:183px;top:135px;width:11px;height:11px;background:#21252b;border:1px solid #353941;border-radius:1.5px;box-sizing:border-box;"></div>
<div class="t" style="left:197.5px;top:136px;color:#5f6570;transform:scaleX(0.971);">Disabled</div>
<div class="a" style="left:183px;top:156.5px;width:11px;height:11px;background:#21252b;border:1px solid #353941;border-radius:6px;box-sizing:border-box;"></div>
<div class="t" style="left:197.5px;top:157px;color:#5f6570;transform:scaleX(0.971);">Disabled</div>
<div class="a" style="left:265px;top:135px;width:11px;height:11px;background:#262a31;border:1px solid #4a4f58;border-radius:1.5px;box-sizing:border-box;"></div>
<svg class="a" style="left:265px;top:135px;" width="11" height="11" viewBox="0 0 11 11"><path d="M2.6 5.6 L4.6 7.9 L8.4 2.8" stroke="#d7dbe2" stroke-width="1.4" fill="none"/></svg>
<div class="t" style="left:279.5px;top:136px;color:#b4bac4;transform:scaleX(0.926);">Selected</div>
<div class="a" style="left:265px;top:156.5px;width:11px;height:11px;background:#262a31;border:1px solid #4a4f58;border-radius:6px;box-sizing:border-box;"></div>
<div class="a" style="left:268.5px;top:160.0px;width:4px;height:4px;background:#d7dbe2;border-radius:2px;"></div>
<div class="t" style="left:279.5px;top:157px;color:#b4bac4;transform:scaleX(0.926);">Selected</div>
<div class="a" style="left:347px;top:135px;width:11px;height:11px;background:#21252b;border:1px solid #353941;border-radius:1.5px;box-sizing:border-box;"></div>
<svg class="a" style="left:347px;top:135px;" width="11" height="11" viewBox="0 0 11 11"><path d="M2.6 5.6 L4.6 7.9 L8.4 2.8" stroke="#5f6570" stroke-width="1.2" fill="none"/></svg>
<div class="t" style="left:361.5px;top:136px;color:#5f6570;transform:scaleX(0.969);">Selected disabled</div>
<div class="a" style="left:347px;top:156.5px;width:11px;height:11px;background:#21252b;border:1px solid #353941;border-radius:6px;box-sizing:border-box;"></div>
<div class="a" style="left:351px;top:160.5px;width:3px;height:3px;background:#5f6570;border-radius:2px;"></div>
<div class="t" style="left:361.5px;top:157px;color:#5f6570;transform:scaleX(0.969);">Selected disabled</div>
<div class="a" style="left:100px;top:175px;width:76px;height:17px;background:#282c34;border:1px solid #353a42;border-radius:2px;box-sizing:border-box;"></div>
<div class="a" style="left:159px;top:176px;width:1px;height:15px;background:#353a42;"></div>
<svg class="a" style="left:163.1px;top:180.75px;" width="9.0" height="5.9" viewBox="0 0 9.0 5.9"><path d="M1 1 L8.0 1 L4.5 4.9 Z" fill="#c4c9d1"/></svg>
<div class="t" style="left:105px;top:179px;color:#b4bac4;transform:scaleX(0.948);">Editable</div>
<div class="a" style="left:182px;top:175px;width:76px;height:17px;background:#21252b;border:1px solid #30343b;border-radius:2px;box-sizing:border-box;"></div>
<div class="a" style="left:241px;top:176px;width:1px;height:15px;background:#30343b;"></div>
<svg class="a" style="left:245.1px;top:180.75px;" width="9.0" height="5.9" viewBox="0 0 9.0 5.9"><path d="M1 1 L8.0 1 L4.5 4.9 Z" fill="#3f444c"/></svg>
<div class="t" style="left:187px;top:179px;color:#5f6570;transform:scaleX(0.971);">Disabled</div>
<div class="a" style="left:264px;top:175px;width:76px;height:17px;background:#3a3f48;border:1px solid #353a42;border-radius:2px;box-sizing:border-box;"></div>
<svg class="a" style="left:327.1px;top:180.75px;" width="9.0" height="5.9" viewBox="0 0 9.0 5.9"><path d="M1 1 L8.0 1 L4.5 4.9 Z" fill="#c4c9d1"/></svg>
<div class="t" style="left:269px;top:179px;color:#b4bac4;transform:scaleX(1.015);">Not editable</div>
<div class="a" style="left:346px;top:175px;width:112px;height:17px;background:#21252b;border:1px solid #30343b;border-radius:2px;box-sizing:border-box;"></div>
<svg class="a" style="left:444.9px;top:180.75px;" width="9.0" height="5.9" viewBox="0 0 9.0 5.9"><path d="M1 1 L8.0 1 L4.5 4.9 Z" fill="#3f444c"/></svg>
<div class="t" style="left:351px;top:179px;color:#5f6570;transform:scaleX(1.010);">Not editable disabled</div>
<div class="a" style="left:100px;top:198px;width:76px;height:17px;background:#282c34;border:1px solid #353a42;border-radius:2px;box-sizing:border-box;"></div>
<div class="a" style="left:159px;top:199px;width:1px;height:15px;background:#353a42;"></div>
<svg class="a" style="left:163.5px;top:200px;" width="9" height="13" viewBox="0 0 9 13"><path d="M0.6 5.6 L4.1 1.4 L7.6 5.6 Z M0.6 7.5 L4.1 11.7 L7.6 7.5 Z" fill="#c4c9d1"/></svg>
<div class="t" style="left:100px;top:202px;width:55px;text-align:right;color:#b4bac4">0</div>
<div class="a" style="left:182px;top:198px;width:76px;height:17px;background:#21252b;border:1px solid #30343b;border-radius:2px;box-sizing:border-box;"></div>
<div class="a" style="left:241px;top:199px;width:1px;height:15px;background:#30343b;"></div>
<svg class="a" style="left:245.5px;top:200px;" width="9" height="13" viewBox="0 0 9 13"><path d="M0.6 5.6 L4.1 1.4 L7.6 5.6 Z M0.6 7.5 L4.1 11.7 L7.6 7.5 Z" fill="#3f444c"/></svg>
<div class="t" style="left:182px;top:202px;width:55px;text-align:right;color:#5f6570">0</div>
<div class="a" style="left:100px;top:221px;width:76px;height:17px;background:#282c34;border:1px solid #353a42;border-radius:2px;box-sizing:border-box;"></div>
<div class="t" style="left:105px;top:225px;color:#b4bac4;transform:scaleX(0.948);">Editable</div>
<div class="a" style="left:99.5px;top:220.5px;width:77.0px;height:18.0px;border:1.5px solid #4f82e0;border-radius:2.5px;box-sizing:border-box;"></div>
<div class="a" style="left:136px;top:223.5px;width:1px;height:12px;background:#c8ccd2;"></div>
<div class="a" style="left:182px;top:221px;width:76px;height:17px;background:#21252b;border:1px solid #30343b;border-radius:2px;box-sizing:border-box;"></div>
<div class="t" style="left:187px;top:225px;color:#b4bac4;transform:scaleX(0.971);">Disabled</div>
<div class="a" style="left:264px;top:221px;width:76px;height:17px;background:#21252b;border:1px solid #353a42;border-radius:2px;box-sizing:border-box;"></div>
<div class="t" style="left:269px;top:225px;color:#b4bac4;transform:scaleX(1.015);">Not editable</div>
<div class="a" style="left:346px;top:221px;width:112px;height:17px;background:#21252b;border:1px solid #30343b;border-radius:2px;box-sizing:border-box;"></div>
<div class="t" style="left:351px;top:225px;color:#b4bac4;transform:scaleX(1.010);">Not editable disabled</div>
<div class="a" style="left:100px;top:244px;width:76px;height:17px;background:#282c34;border:1px solid #353a42;border-radius:2px;box-sizing:border-box;"></div>
<svg class="a" style="left:105px;top:251.8px;" width="31.6" height="3" viewBox="0 0 31.6 3"><rect x="1.00" y="0.1" width="1.9" height="1.9" fill="#b4bac4"/><rect x="4.50" y="0.1" width="1.9" height="1.9" fill="#b4bac4"/><rect x="8.00" y="0.1" width="1.9" height="1.9" fill="#b4bac4"/><rect x="11.50" y="0.1" width="1.9" height="1.9" fill="#b4bac4"/><rect x="15.00" y="0.1" width="1.9" height="1.9" fill="#b4bac4"/><rect x="18.50" y="0.1" width="1.9" height="1.9" fill="#b4bac4"/><rect x="22.00" y="0.1" width="1.9" height="1.9" fill="#b4bac4"/><rect x="25.50" y="0.1" width="1.9" height="1.9" fill="#b4bac4"/></svg>
<div class="a" style="left:182px;top:244px;width:76px;height:17px;background:#21252b;border:1px solid #30343b;border-radius:2px;box-sizing:border-box;"></div>
<svg class="a" style="left:187px;top:251.8px;" width="31.6" height="3" viewBox="0 0 31.6 3"><rect x="1.00" y="0.1" width="1.9" height="1.9" fill="#b4bac4"/><rect x="4.50" y="0.1" width="1.9" height="1.9" fill="#b4bac4"/><rect x="8.00" y="0.1" width="1.9" height="1.9" fill="#b4bac4"/><rect x="11.50" y="0.1" width="1.9" height="1.9" fill="#b4bac4"/><rect x="15.00" y="0.1" width="1.9" height="1.9" fill="#b4bac4"/><rect x="18.50" y="0.1" width="1.9" height="1.9" fill="#b4bac4"/><rect x="22.00" y="0.1" width="1.9" height="1.9" fill="#b4bac4"/><rect x="25.50" y="0.1" width="1.9" height="1.9" fill="#b4bac4"/></svg>
<div class="a" style="left:264px;top:244px;width:76px;height:17px;background:#21252b;border:1px solid #353a42;border-radius:2px;box-sizing:border-box;"></div>
<svg class="a" style="left:269px;top:251.8px;" width="46.400000000000006" height="3" viewBox="0 0 46.400000000000006 3"><rect x="1.00" y="0.1" width="1.9" height="1.9" fill="#b4bac4"/><rect x="4.50" y="0.1" width="1.9" height="1.9" fill="#b4bac4"/><rect x="8.00" y="0.1" width="1.9" height="1.9" fill="#b4bac4"/><rect x="11.50" y="0.1" width="1.9" height="1.9" fill="#b4bac4"/><rect x="15.00" y="0.1" width="1.9" height="1.9" fill="#b4bac4"/><rect x="18.50" y="0.1" width="1.9" height="1.9" fill="#b4bac4"/><rect x="22.00" y="0.1" width="1.9" height="1.9" fill="#b4bac4"/><rect x="25.50" y="0.1" width="1.9" height="1.9" fill="#b4bac4"/><rect x="29.00" y="0.1" width="1.9" height="1.9" fill="#b4bac4"/><rect x="32.50" y="0.1" width="1.9" height="1.9" fill="#b4bac4"/><rect x="36.00" y="0.1" width="1.9" height="1.9" fill="#b4bac4"/><rect x="39.50" y="0.1" width="1.9" height="1.9" fill="#b4bac4"/></svg>
<div class="a" style="left:346px;top:244px;width:112px;height:17px;background:#21252b;border:1px solid #30343b;border-radius:2px;box-sizing:border-box;"></div>
<svg class="a" style="left:351px;top:251.8px;" width="79.7" height="3" viewBox="0 0 79.7 3"><rect x="1.00" y="0.1" width="1.9" height="1.9" fill="#b4bac4"/><rect x="4.50" y="0.1" width="1.9" height="1.9" fill="#b4bac4"/><rect x="8.00" y="0.1" width="1.9" height="1.9" fill="#b4bac4"/><rect x="11.50" y="0.1" width="1.9" height="1.9" fill="#b4bac4"/><rect x="15.00" y="0.1" width="1.9" height="1.9" fill="#b4bac4"/><rect x="18.50" y="0.1" width="1.9" height="1.9" fill="#b4bac4"/><rect x="22.00" y="0.1" width="1.9" height="1.9" fill="#b4bac4"/><rect x="25.50" y="0.1" width="1.9" height="1.9" fill="#b4bac4"/><rect x="29.00" y="0.1" width="1.9" height="1.9" fill="#b4bac4"/><rect x="32.50" y="0.1" width="1.9" height="1.9" fill="#b4bac4"/><rect x="36.00" y="0.1" width="1.9" height="1.9" fill="#b4bac4"/><rect x="39.50" y="0.1" width="1.9" height="1.9" fill="#b4bac4"/><rect x="43.00" y="0.1" width="1.9" height="1.9" fill="#b4bac4"/><rect x="46.50" y="0.1" width="1.9" height="1.9" fill="#b4bac4"/><rect x="50.00" y="0.1" width="1.9" height="1.9" fill="#b4bac4"/><rect x="53.50" y="0.1" width="1.9" height="1.9" fill="#b4bac4"/><rect x="57.00" y="0.1" width="1.9" height="1.9" fill="#b4bac4"/><rect x="60.50" y="0.1" width="1.9" height="1.9" fill="#b4bac4"/><rect x="64.00" y="0.1" width="1.9" height="1.9" fill="#b4bac4"/><rect x="67.50" y="0.1" width="1.9" height="1.9" fill="#b4bac4"/><rect x="71.00" y="0.1" width="1.9" height="1.9" fill="#b4bac4"/></svg>
<div class="t" style="left:494px;top:65px;color:#b4bac4;transform:scaleX(0.914);">Themes:</div>
<svg class="a" style="left:543px;top:63px;" width="12" height="12" viewBox="0 0 12 12"><path d="M6 1.4 V6.5" stroke="#b3b8c0" stroke-width="1.5"/><path d="M2.3 4.6 L9.7 4.6 L6 8.4 Z" fill="#b3b8c0"/><path d="M1.4 10 H10.6" stroke="#b3b8c0" stroke-width="1.5"/></svg>
<svg class="a" style="left:563px;top:63px;" width="12" height="12" viewBox="0 0 12 12"><circle cx="6" cy="5.6" r="5.25" fill="#e6e8eb"/><path d="M2.9 4.3 L3.3 2.7 L4.7 3.3 Q6 3.0 7.3 3.3 L8.7 2.7 L9.1 4.3 Q9.6 5 9.4 6 Q9.0 7.6 7.1 7.9 V11.2 H4.9 V7.9 Q3.0 7.6 2.6 6 Q2.4 5 2.9 4.3 Z" fill="#21252b"/><path d="M2.4 8.2 Q3.4 9.7 4.9 9.4" stroke="#e6e8eb" stroke-width="0.9" fill="none"/></svg>
<div class="a" style="left:586px;top:60.5px;width:45px;height:17px;background:#2c3038;border:1px solid #353a42;border-radius:2px;box-sizing:border-box;"></div>
<div class="t" style="left:591.5px;top:65px;color:#b4bac4;transform:scaleX(0.960);">all</div>
<svg class="a" style="left:618.0px;top:66.35px;" width="9.0" height="5.9" viewBox="0 0 9.0 5.9"><path d="M1 1 L8.0 1 L4.5 4.9 Z" fill="#c4c9d1"/></svg>
<div class="a" style="left:494px;top:81.5px;width:137.5px;height:186px;background:#21252b;border:1px solid #30343b;box-sizing:border-box;"></div>
<div class="a" style="left:495px;top:82.5px;width:135.5px;height:184.0px;overflow:hidden">
<div class="t" style="left:5px;top:-11.24999999999999px;color:#b4bac4;transform:scaleX(0.960)">Gradianto Midnight Blue</div>
<div class="t" style="left:5px;top:3.2px;color:#b4bac4;transform:scaleX(0.960)">Gray</div>
<div class="t" style="left:5px;top:17.649999999999988px;color:#b4bac4;transform:scaleX(0.960)">Gruvbox Dark Hard</div>
<div class="t" style="left:5px;top:32.09999999999998px;color:#b4bac4;transform:scaleX(0.960)">Gruvbox Dark Medium</div>
<div class="t" style="left:5px;top:46.54999999999997px;color:#b4bac4;transform:scaleX(0.960)">Gruvbox Dark Soft</div>
<div class="t" style="left:5px;top:60.99999999999996px;color:#b4bac4;transform:scaleX(0.960)">Hiberbee Dark</div>
<div class="t" style="left:5px;top:75.44999999999995px;color:#b4bac4;transform:scaleX(0.960)">High contrast</div>
<div class="t" style="left:5px;top:89.89999999999993px;color:#b4bac4;transform:scaleX(0.960)">Light Flat</div>
<div class="t" style="left:5px;top:104.34999999999992px;color:#b4bac4;transform:scaleX(0.960)">Material Design Dark</div>
<div class="t" style="left:5px;top:118.79999999999991px;color:#b4bac4;transform:scaleX(0.960)">Monocai</div>
<div class="t" style="left:5px;top:133.2499999999999px;color:#b4bac4;transform:scaleX(0.960)">Nord</div>
<div class="a" style="left:0px;top:145.9999999999999px;width:127.5px;height:14.45px;background:#2f343d"></div>
<div class="t" style="left:5px;top:147.69999999999987px;color:#d0d4db;transform:scaleX(0.960)">One Dark</div>
<div class="t" style="left:5px;top:162.14999999999986px;color:#b4bac4;transform:scaleX(0.960)">Solarized Dark</div>
<div class="t" style="left:5px;top:176.59999999999985px;color:#b4bac4;transform:scaleX(0.960)">Solarized Light</div>
<div class="a" style="left:126.5px;top:0;width:9px;height:184.0px;background:#23272d"></div>
<div class="a" style="left:127.79999999999995px;top:57.5px;width:7px;height:34.5px;background:#3a3f47"></div>
</div>
<div class="a" style="left:9px;top:276px;width:622px;height:1px;background:#2e323a;"></div>
<div class="a" style="left:9px;top:284px;width:90px;height:17px;background:#2c3038;border:1px solid #353a42;border-radius:2px;box-sizing:border-box;"></div>
<div class="t" style="left:15px;top:288px;color:#b4bac4;transform:scaleX(0.960);">One Dark</div>
<svg class="a" style="left:86.5px;top:289.35px;" width="9.0" height="5.9" viewBox="0 0 9.0 5.9"><path d="M1 1 L8.0 1 L4.5 4.9 Z" fill="#c4c9d1"/></svg>
<div class="a" style="left:107px;top:286.5px;width:11px;height:11px;background:#262a31;border:1px solid #4a4f58;border-radius:1.5px;box-sizing:border-box;"></div>
<div class="t" style="left:121px;top:288px;color:#b4bac4;transform:scaleX(1.074);">right-to-left</div>
<div class="a" style="left:176.5px;top:286.5px;width:11px;height:11px;background:#262a31;border:1px solid #4a4f58;border-radius:1.5px;box-sizing:border-box;"></div>
<svg class="a" style="left:176.5px;top:286.5px;" width="11" height="11" viewBox="0 0 11 11"><path d="M2.6 5.6 L4.6 7.9 L8.4 2.8" stroke="#d7dbe2" stroke-width="1.4" fill="none"/></svg>
<div class="t" style="left:191px;top:288px;color:#b4bac4;transform:scaleX(0.950);">enabled</div>
<div class="t" style="left:299px;top:288px;color:#b4bac4;transform:scaleX(0.949);">(Java 1.8.0_202;  user scale factor 1.5; Segoe UI 18)</div>
<div class="a" style="left:575px;top:284px;width:56px;height:17px;background:#568af2;border-radius:2px;"></div>
<div class="t c" style="left:575px;top:288px;width:56px;color:#ffffff;font-weight:bold;transform:scaleX(0.92);transform-origin:50% 0">Close</div>
</div>
<div class="panel" style="left:0px;top:315px;background:#e5e7eb;--sw:0.15px">
<div class="a" style="left:0px;top:0px;width:640px;height:24px;background:#e5e7eb;"></div>
<div class="a" style="left:0px;top:23px;width:640px;height:1px;background:#c9ccd1;"></div>
<div class="a" style="left:0px;top:0px;width:640px;height:1px;background:#9fa1a6;"></div>
<div class="a" style="left:0px;top:0px;width:1px;height:310px;background:#9fa1a6;"></div>
<div class="a" style="left:639px;top:0px;width:1px;height:310px;background:#f4f5f7;"></div>
<div class="a" style="left:0px;top:309px;width:640px;height:1px;background:#a0a2a6;"></div>
<svg class="a" style="left:6px;top:5px;" width="13" height="13" viewBox="0 0 13 13"><rect x="0" y="0" width="12.5" height="12.5" rx="1.5" fill="#e2620e"/><path d="M3 2.6 H6.6 M3 2.6 V10 M3 5.9 H6" stroke="#fff" stroke-width="1.5" fill="none"/><path d="M7.6 6.2 V9.5 H10" stroke="#fff" stroke-width="1.3" fill="none"/></svg>
<div class="t" style="left:30.5px;top:7px;color:#3b3e44;transform:scaleX(0.853);">File</div>
<div class="t" style="left:55.5px;top:7px;color:#3b3e44;transform:scaleX(0.919);">Edit</div>
<div class="t" style="left:82.5px;top:7px;color:#3b3e44;transform:scaleX(0.915);">View</div>
<div class="t" style="left:112.5px;top:7px;color:#3b3e44;transform:scaleX(0.989);">Font</div>
<div class="t" style="left:142.5px;top:7px;color:#3b3e44;transform:scaleX(1.032);">Options</div>
<div class="t" style="left:186.5px;top:7px;color:#3b3e44;transform:scaleX(0.947);">Help</div>
<div class="t" style="left:357.5px;top:7px;color:#6d7076;transform:scaleX(0.972);-webkit-text-stroke-width:0">FlatLaf Demo</div>
<svg class="a" style="left:550px;top:5px;" width="80" height="14" viewBox="0 0 80 14"><path d="M3 6.6 H11" stroke="#8a8d92" stroke-width="1"/><rect x="36.5" y="3.5" width="7.5" height="7.5" rx="1" fill="none" stroke="#8a8d92" stroke-width="1"/><path d="M69 3 L77 11 M77 3 L69 11" stroke="#8a8d92" stroke-width="1"/></svg>
<div class="a" style="left:6px;top:32.2px;width:1.3px;height:1.3px;background:#5c5f64;opacity:.7"></div>
<div class="a" style="left:6px;top:35.2px;width:1.3px;height:1.3px;background:#5c5f64;opacity:.7"></div>
<div class="a" style="left:6px;top:38.2px;width:1.3px;height:1.3px;background:#5c5f64;opacity:.7"></div>
<div class="a" style="left:6px;top:41.2px;width:1.3px;height:1.3px;background:#5c5f64;opacity:.7"></div>
<svg class="a" style="left:12px;top:31px;" width="14" height="12" viewBox="0 0 14 12"><path d="M2.5 6 H11.5 M6 2.3 L2.3 6 L6 9.7" stroke="#5c5f64" stroke-width="1.6" fill="none"/></svg>
<svg class="a" style="left:32px;top:31px;" width="14" height="12" viewBox="0 0 14 12"><path d="M2.5 6 H11.8 M8.3 2.3 L12 6 L8.3 9.7" stroke="#5c5f64" stroke-width="1.6" fill="none"/></svg>
<div class="a" style="left:51px;top:29.5px;width:1px;height:15px;background:#cfd1d5;"></div>
<div class="a" style="left:117.5px;top:29.5px;width:1px;height:15px;background:#cfd1d5;"></div>
<div class="a" style="left:143px;top:29.5px;width:1px;height:15px;background:#cfd1d5;"></div>
<svg class="a" style="left:58px;top:30px;" width="14" height="14" viewBox="0 0 14 14"><circle cx="4" cy="3.8" r="1.7" fill="none" stroke="#5c5f64" stroke-width="1.1"/><circle cx="4" cy="9.9" r="1.7" fill="none" stroke="#5c5f64" stroke-width="1.1"/><path d="M5.4 5 L11.8 11.6 M5.4 8.7 L7.6 6.6 M8.6 5.6 L11.8 2.3" stroke="#5c5f64" stroke-width="1.1" fill="none"/></svg>
<svg class="a" style="left:79px;top:30px;" width="13" height="13" viewBox="0 0 13 13"><path d="M2.3 8.7 V2.9 H7.8" stroke="#5c5f64" stroke-width="1.1" fill="none"/><rect x="4.6" y="4.6" width="5.8" height="6.6" fill="#b8babe" stroke="#5c5f64" stroke-width="1.3"/></svg>
<svg class="a" style="left:99px;top:30px;" width="13" height="13" viewBox="0 0 13 13"><rect x="2.8" y="3" width="6.6" height="8.4" fill="none" stroke="#5c5f64" stroke-width="1.4"/><rect x="4.8" y="1.6" width="2.6" height="2" fill="#5c5f64"/></svg>
<svg class="a" style="left:125px;top:30px;" width="13" height="13" viewBox="0 0 13 13"><path d="M2.4 5.2 A4.3 4.3 0 0 1 10.2 5.3" stroke="#5c5f64" stroke-width="1.3" fill="none"/><path d="M10.4 8.2 A4.3 4.3 0 0 1 2.6 8.1" stroke="#5c5f64" stroke-width="1.3" fill="none"/><path d="M1.2 3.6 L4.6 5.6 L1.6 6.6 Z" fill="#5c5f64"/><path d="M11.6 9.8 L8.2 7.8 L11.2 6.8 Z" fill="#5c5f64"/></svg>
<div class="a" style="left:148.5px;top:29px;width:17px;height:16px;background:#c8cacf;border-radius:1.5px;"></div>
<svg class="a" style="left:150px;top:31px;" width="14" height="12" viewBox="0 0 14 12"><path d="M2.1 6 Q7 -0.9 11.9 6 Q7 12.9 2.1 6 Z" fill="none" stroke="#5c5f64" stroke-width="1.5"/><circle cx="7" cy="6" r="1.4" fill="#5c5f64"/></svg>
<div class="t" style="left:18px;top:66px;color:#2f3237;transform:scaleX(0.964);">Basic Components</div>
<div class="t" style="left:109.5px;top:66px;color:#2f3237;transform:scaleX(1.011);">More Components</div>
<div class="t" style="left:203px;top:66px;color:#2f3237;">Data Components</div>
<div class="t" style="left:292.5px;top:66px;color:#2f3237;transform:scaleX(0.972);">SplitPane &amp; Tabs</div>
<div class="t" style="left:377.5px;top:66px;color:#2f3237;transform:scaleX(0.986);">Option Pane</div>
<div class="t" style="left:445px;top:66px;color:#2f3237;transform:scaleX(0.877);">Extras</div>
<div class="a" style="left:9px;top:82px;width:477px;height:2px;background:#cdd0d5;"></div>
<div class="a" style="left:9px;top:82px;width:92px;height:2px;background:#1ea3c8;"></div>
<div class="t" style="left:17.5px;top:94px;color:#2f3237;transform:scaleX(0.883);">JLabel:</div>
<div class="t" style="left:17.5px;top:114px;color:#2f3237;transform:scaleX(0.955);">JButton:</div>
<div class="t" style="left:17.5px;top:136px;color:#2f3237;transform:scaleX(0.891);">JCheckBox</div>
<div class="t" style="left:17.5px;top:157px;color:#2f3237;transform:scaleX(0.982);">JRadioButton:</div>
<div class="t" style="left:17.5px;top:179px;color:#2f3237;transform:scaleX(0.980);">JComboBox:</div>
<div class="t" style="left:17.5px;top:202px;color:#2f3237;transform:scaleX(0.921);">JSpinner:</div>
<div class="t" style="left:17.5px;top:225px;color:#2f3237;transform:scaleX(0.923);">JTextField:</div>
<div class="t" style="left:17.5px;top:248px;color:#2f3237;transform:scaleX(0.938);">JPasswordField:</div>
<div class="t" style="left:99.5px;top:94px;color:#2f3237;transform:scaleX(0.933);">Enabled</div>
<div class="t" style="left:181.5px;top:94px;color:#a5a8ad;transform:scaleX(0.971);">Disabled</div>
<div class="a" style="left:100px;top:110px;width:54px;height:17px;background:#ffffff;border:1px solid #b9bcc1;border-radius:2px;box-sizing:border-box;"></div>
<div class="t c" style="left:100px;top:114px;width:54px;color:#2f3237;transform:scaleX(0.933);transform-origin:50% 0;">Enabled</div>
<div class="a" style="left:182px;top:110px;width:57px;height:17px;background:#e5e7eb;border:1px solid #cdd0d4;border-radius:2px;box-sizing:border-box;"></div>
<div class="t c" style="left:182px;top:114px;width:57px;color:#a5a8ad;transform:scaleX(0.971);transform-origin:50% 0;">Disabled</div>
<div class="a" style="left:264px;top:110px;width:54px;height:17px;background:#ffffff;border:1px solid #b9bcc1;box-sizing:border-box;"></div>
<div class="t c" style="left:264px;top:114px;width:54px;color:#2f3237;transform:scaleX(0.960);transform-origin:50% 0;">Square</div>
<div class="a" style="left:346px;top:110px;width:54px;height:17px;background:#ffffff;border:1px solid #b9bcc1;border-radius:9px;box-sizing:border-box;"></div>
<div class="t c" style="left:346px;top:114px;width:54px;color:#2f3237;transform:scaleX(0.960);transform-origin:50% 0;">Round</div>
<div class="a" style="left:405px;top:110.5px;width:16.5px;height:16.5px;background:#ffffff;border:1px solid #b9bcc1;border-radius:9px;box-sizing:border-box;"></div>
<div class="t c" style="left:405px;top:111.5px;width:16.5px;color:#2f7fd8;font-size:12px;line-height:13px;-webkit-text-stroke-width:0">?</div>
<div class="a" style="left:427.5px;top:110.5px;width:16.5px;height:16.5px;border:1px solid #c9ccd0;border-radius:9px;box-sizing:border-box;"></div>
<div class="t c" style="left:427.5px;top:111.5px;width:16.5px;color:#a5a8ad;font-size:12px;line-height:13px;-webkit-text-stroke-width:0">?</div>
<div class="a" style="left:101px;top:135px;width:11px;height:11px;background:#ffffff;border:1px solid #7d8085;border-radius:1.5px;box-sizing:border-box;"></div>
<div class="t" style="left:115.5px;top:136px;color:#2f3237;transform:scaleX(0.933);">Enabled</div>
<div class="a" style="left:101px;top:156.5px;width:11px;height:11px;background:#ffffff;border:1px solid #7d8085;border-radius:6px;box-sizing:border-box;"></div>
<div class="t" style="left:115.5px;top:157px;color:#2f3237;transform:scaleX(0.933);">Enabled</div>
<div class="a" style="left:183px;top:135px;width:11px;height:11px;background:#e5e7eb;border:1px solid #c5c8cc;border-radius:1.5px;box-sizing:border-box;"></div>
<div class="t" style="left:197.5px;top:136px;color:#a5a8ad;transform:scaleX(0.971);">Disabled</div>
<div class="a" style="left:183px;top:156.5px;width:11px;height:11px;background:#e5e7eb;border:1px solid #c5c8cc;border-radius:6px;box-sizing:border-box;"></div>
<div class="t" style="left:197.5px;top:157px;color:#a5a8ad;transform:scaleX(0.971);">Disabled</div>
<div class="a" style="left:265px;top:135px;width:11px;height:11px;background:#2aa5c9;border:1px solid #2aa5c9;border-radius:1.5px;box-sizing:border-box;"></div>
<svg class="a" style="left:265px;top:135px;" width="11" height="11" viewBox="0 0 11 11"><path d="M2.6 5.6 L4.6 7.9 L8.4 2.8" stroke="#ffffff" stroke-width="1.4" fill="none"/></svg>
<div class="t" style="left:279.5px;top:136px;color:#2f3237;transform:scaleX(0.926);">Selected</div>
<div class="a" style="left:265px;top:156.5px;width:11px;height:11px;background:#2aa5c9;border:1px solid #2aa5c9;border-radius:6px;box-sizing:border-box;"></div>
<div class="a" style="left:268.5px;top:160.0px;width:4px;height:4px;background:#ffffff;border-radius:2px;"></div>
<div class="t" style="left:279.5px;top:157px;color:#2f3237;transform:scaleX(0.926);">Selected</div>
<div class="a" style="left:347px;top:135px;width:11px;height:11px;background:#e5e7eb;border:1px solid #c5c8cc;border-radius:1.5px;box-sizing:border-box;"></div>
<svg class="a" style="left:347px;top:135px;" width="11" height="11" viewBox="0 0 11 11"><path d="M2.6 5.6 L4.6 7.9 L8.4 2.8" stroke="#a5a8ad" stroke-width="1.2" fill="none"/></svg>
<div class="t" style="left:361.5px;top:136px;color:#a5a8ad;transform:scaleX(0.969);">Selected disabled</div>
<div class="a" style="left:347px;top:156.5px;width:11px;height:11px;background:#e5e7eb;border:1px solid #c5c8cc;border-radius:6px;box-sizing:border-box;"></div>
<div class="a" style="left:351px;top:160.5px;width:3px;height:3px;background:#a5a8ad;border-radius:2px;"></div>
<div class="t" style="left:361.5px;top:157px;color:#a5a8ad;transform:scaleX(0.969);">Selected disabled</div>
<div class="a" style="left:100px;top:175px;width:76px;height:17px;background:#ffffff;border:1px solid #c2c5ca;border-radius:2px;box-sizing:border-box;"></div>
<div class="a" style="left:159px;top:176px;width:1px;height:15px;background:#c2c5ca;"></div>
<svg class="a" style="left:163.1px;top:180.75px;" width="9.0" height="5.9" viewBox="0 0 9.0 5.9"><path d="M1 1 L8.0 1 L4.5 4.9 Z" fill="#44474c"/></svg>
<div class="t" style="left:105px;top:179px;color:#2f3237;transform:scaleX(0.948);">Editable</div>
<div class="a" style="left:182px;top:175px;width:76px;height:17px;background:#e5e7eb;border:1px solid #cdd0d4;border-radius:2px;box-sizing:border-box;"></div>
<div class="a" style="left:241px;top:176px;width:1px;height:15px;background:#cdd0d4;"></div>
<svg class="a" style="left:245.1px;top:180.75px;" width="9.0" height="5.9" viewBox="0 0 9.0 5.9"><path d="M1 1 L8.0 1 L4.5 4.9 Z" fill="#b0b3b7"/></svg>
<div class="t" style="left:187px;top:179px;color:#a5a8ad;transform:scaleX(0.971);">Disabled</div>
<div class="a" style="left:264px;top:175px;width:76px;height:17px;background:#ffffff;border:1px solid #c2c5ca;border-radius:2px;box-sizing:border-box;"></div>
<svg class="a" style="left:327.1px;top:180.75px;" width="9.0" height="5.9" viewBox="0 0 9.0 5.9"><path d="M1 1 L8.0 1 L4.5 4.9 Z" fill="#44474c"/></svg>
<div class="t" style="left:269px;top:179px;color:#2f3237;transform:scaleX(1.015);">Not editable</div>
<div class="a" style="left:346px;top:175px;width:112px;height:17px;background:#e5e7eb;border:1px solid #cdd0d4;border-radius:2px;box-sizing:border-box;"></div>
<svg class="a" style="left:444.9px;top:180.75px;" width="9.0" height="5.9" viewBox="0 0 9.0 5.9"><path d="M1 1 L8.0 1 L4.5 4.9 Z" fill="#b0b3b7"/></svg>
<div class="t" style="left:351px;top:179px;color:#a5a8ad;transform:scaleX(1.010);">Not editable disabled</div>
<div class="a" style="left:100px;top:198px;width:76px;height:17px;background:#ffffff;border:1px solid #c2c5ca;border-radius:2px;box-sizing:border-box;"></div>
<div class="a" style="left:159px;top:199px;width:1px;height:15px;background:#c2c5ca;"></div>
<svg class="a" style="left:163.5px;top:200px;" width="9" height="13" viewBox="0 0 9 13"><path d="M0.6 5.6 L4.1 1.4 L7.6 5.6 Z M0.6 7.5 L4.1 11.7 L7.6 7.5 Z" fill="#44474c"/></svg>
<div class="t" style="left:100px;top:202px;width:55px;text-align:right;color:#2f3237">0</div>
<div class="a" style="left:182px;top:198px;width:76px;height:17px;background:#e5e7eb;border:1px solid #cdd0d4;border-radius:2px;box-sizing:border-box;"></div>
<div class="a" style="left:241px;top:199px;width:1px;height:15px;background:#cdd0d4;"></div>
<svg class="a" style="left:245.5px;top:200px;" width="9" height="13" viewBox="0 0 9 13"><path d="M0.6 5.6 L4.1 1.4 L7.6 5.6 Z M0.6 7.5 L4.1 11.7 L7.6 7.5 Z" fill="#b0b3b7"/></svg>
<div class="t" style="left:182px;top:202px;width:55px;text-align:right;color:#a5a8ad">0</div>
<div class="a" style="left:100px;top:221px;width:76px;height:17px;background:#ffffff;border:1px solid #c2c5ca;border-radius:2px;box-sizing:border-box;"></div>
<div class="t" style="left:105px;top:225px;color:#2f3237;transform:scaleX(0.948);">Editable</div>
<div class="a" style="left:98.5px;top:219.5px;width:79.0px;height:20.0px;border:2.5px solid #5cc0dc;border-radius:2.5px;box-sizing:border-box;"></div>
<div class="a" style="left:136px;top:223.5px;width:1px;height:12px;background:#2f3237;"></div>
<div class="a" style="left:182px;top:221px;width:76px;height:17px;background:#e5e7eb;border:1px solid #cdd0d4;border-radius:2px;box-sizing:border-box;"></div>
<div class="t" style="left:187px;top:225px;color:#a5a8ad;transform:scaleX(0.971);">Disabled</div>
<div class="a" style="left:264px;top:221px;width:76px;height:17px;background:#e5e7eb;border:1px solid #c2c5ca;border-radius:2px;box-sizing:border-box;"></div>
<div class="t" style="left:269px;top:225px;color:#2f3237;transform:scaleX(1.015);">Not editable</div>
<div class="a" style="left:346px;top:221px;width:112px;height:17px;background:#e5e7eb;border:1px solid #cdd0d4;border-radius:2px;box-sizing:border-box;"></div>
<div class="t" style="left:351px;top:225px;color:#a5a8ad;transform:scaleX(1.010);">Not editable disabled</div>
<div class="a" style="left:100px;top:244px;width:76px;height:17px;background:#ffffff;border:1px solid #c2c5ca;border-radius:2px;box-sizing:border-box;"></div>
<svg class="a" style="left:105px;top:251.8px;" width="31.6" height="3" viewBox="0 0 31.6 3"><rect x="1.00" y="0.1" width="1.9" height="1.9" fill="#2f3237"/><rect x="4.50" y="0.1" width="1.9" height="1.9" fill="#2f3237"/><rect x="8.00" y="0.1" width="1.9" height="1.9" fill="#2f3237"/><rect x="11.50" y="0.1" width="1.9" height="1.9" fill="#2f3237"/><rect x="15.00" y="0.1" width="1.9" height="1.9" fill="#2f3237"/><rect x="18.50" y="0.1" width="1.9" height="1.9" fill="#2f3237"/><rect x="22.00" y="0.1" width="1.9" height="1.9" fill="#2f3237"/><rect x="25.50" y="0.1" width="1.9" height="1.9" fill="#2f3237"/></svg>
<div class="a" style="left:182px;top:244px;width:76px;height:17px;background:#e5e7eb;border:1px solid #cdd0d4;border-radius:2px;box-sizing:border-box;"></div>
<svg class="a" style="left:187px;top:251.8px;" width="31.6" height="3" viewBox="0 0 31.6 3"><rect x="1.00" y="0.1" width="1.9" height="1.9" fill="#a5a8ad"/><rect x="4.50" y="0.1" width="1.9" height="1.9" fill="#a5a8ad"/><rect x="8.00" y="0.1" width="1.9" height="1.9" fill="#a5a8ad"/><rect x="11.50" y="0.1" width="1.9" height="1.9" fill="#a5a8ad"/><rect x="15.00" y="0.1" width="1.9" height="1.9" fill="#a5a8ad"/><rect x="18.50" y="0.1" width="1.9" height="1.9" fill="#a5a8ad"/><rect x="22.00" y="0.1" width="1.9" height="1.9" fill="#a5a8ad"/><rect x="25.50" y="0.1" width="1.9" height="1.9" fill="#a5a8ad"/></svg>
<div class="a" style="left:264px;top:244px;width:76px;height:17px;background:#e5e7eb;border:1px solid #c2c5ca;border-radius:2px;box-sizing:border-box;"></div>
<svg class="a" style="left:269px;top:251.8px;" width="46.400000000000006" height="3" viewBox="0 0 46.400000000000006 3"><rect x="1.00" y="0.1" width="1.9" height="1.9" fill="#2f3237"/><rect x="4.50" y="0.1" width="1.9" height="1.9" fill="#2f3237"/><rect x="8.00" y="0.1" width="1.9" height="1.9" fill="#2f3237"/><rect x="11.50" y="0.1" width="1.9" height="1.9" fill="#2f3237"/><rect x="15.00" y="0.1" width="1.9" height="1.9" fill="#2f3237"/><rect x="18.50" y="0.1" width="1.9" height="1.9" fill="#2f3237"/><rect x="22.00" y="0.1" width="1.9" height="1.9" fill="#2f3237"/><rect x="25.50" y="0.1" width="1.9" height="1.9" fill="#2f3237"/><rect x="29.00" y="0.1" width="1.9" height="1.9" fill="#2f3237"/><rect x="32.50" y="0.1" width="1.9" height="1.9" fill="#2f3237"/><rect x="36.00" y="0.1" width="1.9" height="1.9" fill="#2f3237"/><rect x="39.50" y="0.1" width="1.9" height="1.9" fill="#2f3237"/></svg>
<div class="a" style="left:346px;top:244px;width:112px;height:17px;background:#e5e7eb;border:1px solid #cdd0d4;border-radius:2px;box-sizing:border-box;"></div>
<svg class="a" style="left:351px;top:251.8px;" width="79.7" height="3" viewBox="0 0 79.7 3"><rect x="1.00" y="0.1" width="1.9" height="1.9" fill="#a5a8ad"/><rect x="4.50" y="0.1" width="1.9" height="1.9" fill="#a5a8ad"/><rect x="8.00" y="0.1" width="1.9" height="1.9" fill="#a5a8ad"/><rect x="11.50" y="0.1" width="1.9" height="1.9" fill="#a5a8ad"/><rect x="15.00" y="0.1" width="1.9" height="1.9" fill="#a5a8ad"/><rect x="18.50" y="0.1" width="1.9" height="1.9" fill="#a5a8ad"/><rect x="22.00" y="0.1" width="1.9" height="1.9" fill="#a5a8ad"/><rect x="25.50" y="0.1" width="1.9" height="1.9" fill="#a5a8ad"/><rect x="29.00" y="0.1" width="1.9" height="1.9" fill="#a5a8ad"/><rect x="32.50" y="0.1" width="1.9" height="1.9" fill="#a5a8ad"/><rect x="36.00" y="0.1" width="1.9" height="1.9" fill="#a5a8ad"/><rect x="39.50" y="0.1" width="1.9" height="1.9" fill="#a5a8ad"/><rect x="43.00" y="0.1" width="1.9" height="1.9" fill="#a5a8ad"/><rect x="46.50" y="0.1" width="1.9" height="1.9" fill="#a5a8ad"/><rect x="50.00" y="0.1" width="1.9" height="1.9" fill="#a5a8ad"/><rect x="53.50" y="0.1" width="1.9" height="1.9" fill="#a5a8ad"/><rect x="57.00" y="0.1" width="1.9" height="1.9" fill="#a5a8ad"/><rect x="60.50" y="0.1" width="1.9" height="1.9" fill="#a5a8ad"/><rect x="64.00" y="0.1" width="1.9" height="1.9" fill="#a5a8ad"/><rect x="67.50" y="0.1" width="1.9" height="1.9" fill="#a5a8ad"/><rect x="71.00" y="0.1" width="1.9" height="1.9" fill="#a5a8ad"/></svg>
<div class="t" style="left:494px;top:65px;color:#2f3237;transform:scaleX(0.914);">Themes:</div>
<svg class="a" style="left:543px;top:63px;" width="12" height="12" viewBox="0 0 12 12"><path d="M6 1.4 V6.5" stroke="#5c5f64" stroke-width="1.5"/><path d="M2.3 4.6 L9.7 4.6 L6 8.4 Z" fill="#5c5f64"/><path d="M1.4 10 H10.6" stroke="#5c5f64" stroke-width="1.5"/></svg>
<svg class="a" style="left:563px;top:63px;" width="12" height="12" viewBox="0 0 12 12"><circle cx="6" cy="5.6" r="5.25" fill="#151515"/><path d="M2.9 4.3 L3.3 2.7 L4.7 3.3 Q6 3.0 7.3 3.3 L8.7 2.7 L9.1 4.3 Q9.6 5 9.4 6 Q9.0 7.6 7.1 7.9 V11.2 H4.9 V7.9 Q3.0 7.6 2.6 6 Q2.4 5 2.9 4.3 Z" fill="#e5e7eb"/><path d="M2.4 8.2 Q3.4 9.7 4.9 9.4" stroke="#151515" stroke-width="0.9" fill="none"/></svg>
<div class="a" style="left:586px;top:60.5px;width:45px;height:17px;background:#ffffff;border:1px solid #c2c5ca;border-radius:2px;box-sizing:border-box;"></div>
<div class="t" style="left:591.5px;top:65px;color:#2f3237;transform:scaleX(0.960);">all</div>
<svg class="a" style="left:618.0px;top:66.35px;" width="9.0" height="5.9" viewBox="0 0 9.0 5.9"><path d="M1 1 L8.0 1 L4.5 4.9 Z" fill="#44474c"/></svg>
<div class="a" style="left:494px;top:81.5px;width:137.5px;height:186px;background:#eff0f3;border:1px solid #c2c5ca;box-sizing:border-box;"></div>
<div class="a" style="left:495px;top:82.5px;width:135.5px;height:184.0px;overflow:hidden">
<div class="t" style="left:5px;top:-8.950000000000006px;color:#2f3237;transform:scaleX(0.960)">DemoLaf</div>
<div class="a" style="left:3px;top:9.999999999999996px;width:121.5px;height:1px;background:#c2c5ca"></div>
<div class="t c" style="left:0px;top:4.999999999999997px;width:127.4px;color:#a5a8ad;transform:scaleX(0.960);transform-origin:50% 0"><span style="background:#eff0f3;padding:0 3px">IntelliJ Themes</span></div>
<div class="t" style="left:5px;top:18.299999999999994px;color:#2f3237;transform:scaleX(0.960)">Arc</div>
<div class="t" style="left:5px;top:32.75px;color:#2f3237;transform:scaleX(0.960)">Arc - Orange</div>
<div class="t" style="left:5px;top:47.2px;color:#2f3237;transform:scaleX(0.960)">Arc Dark</div>
<div class="t" style="left:5px;top:61.64999999999999px;color:#2f3237;transform:scaleX(0.960)">Arc Dark - Orange</div>
<div class="t" style="left:5px;top:76.09999999999998px;color:#2f3237;transform:scaleX(0.960)">Carbon</div>
<div class="t" style="left:5px;top:90.54999999999997px;color:#2f3237;transform:scaleX(0.960)">Cobalt 2</div>
<div class="a" style="left:0px;top:103.29999999999995px;width:127.5px;height:14.45px;background:#cfd3d9"></div>
<div class="t" style="left:5px;top:104.99999999999996px;color:#2f3237;transform:scaleX(0.960)">Cyan light</div>
<div class="t" style="left:5px;top:119.44999999999995px;color:#2f3237;transform:scaleX(0.960)">Dark Flat</div>
<div class="t" style="left:5px;top:133.89999999999992px;color:#2f3237;transform:scaleX(0.960)">Dark purple</div>
<div class="t" style="left:5px;top:148.3499999999999px;color:#2f3237;transform:scaleX(0.960)">Dracula</div>
<div class="t" style="left:5px;top:162.7999999999999px;color:#2f3237;transform:scaleX(0.960)">Gradianto Dark Fuchsia</div>
<div class="t" style="left:5px;top:177.2499999999999px;color:#2f3237;transform:scaleX(0.960)">Gradianto Deep Ocean</div>
<div class="a" style="left:126.5px;top:0;width:9px;height:184.0px;background:#e9eaee"></div>
<div class="a" style="left:127.79999999999995px;top:18.799999999999997px;width:7px;height:33.8px;background:#c9ccd1"></div>
</div>
<div class="a" style="left:9px;top:276px;width:622px;height:1px;background:#c5c8cd;"></div>
<div class="a" style="left:9px;top:284px;width:90px;height:17px;background:#ffffff;border:1px solid #c2c5ca;border-radius:2px;box-sizing:border-box;"></div>
<div class="t" style="left:15px;top:288px;color:#2f3237;transform:scaleX(0.960);">Cyan light</div>
<svg class="a" style="left:86.5px;top:289.35px;" width="9.0" height="5.9" viewBox="0 0 9.0 5.9"><path d="M1 1 L8.0 1 L4.5 4.9 Z" fill="#44474c"/></svg>
<div class="a" style="left:107px;top:286.5px;width:11px;height:11px;background:#ffffff;border:1px solid #7d8085;border-radius:1.5px;box-sizing:border-box;"></div>
<div class="t" style="left:121px;top:288px;color:#2f3237;transform:scaleX(1.074);">right-to-left</div>
<div class="a" style="left:176.5px;top:286.5px;width:11px;height:11px;background:#2aa5c9;border:1px solid #2aa5c9;border-radius:1.5px;box-sizing:border-box;"></div>
<svg class="a" style="left:176.5px;top:286.5px;" width="11" height="11" viewBox="0 0 11 11"><path d="M2.6 5.6 L4.6 7.9 L8.4 2.8" stroke="#ffffff" stroke-width="1.4" fill="none"/></svg>
<div class="t" style="left:191px;top:288px;color:#2f3237;transform:scaleX(0.950);">enabled</div>
<div class="t" style="left:299px;top:288px;color:#2f3237;transform:scaleX(0.949);">(Java 1.8.0_202;  user scale factor 1.5; Segoe UI 18)</div>
<div class="a" style="left:575px;top:284px;width:56px;height:17px;background:#22a0c4;border-radius:2px;"></div>
<div class="t c" style="left:575px;top:288px;width:56px;color:#ffffff;font-weight:bold;transform:scaleX(0.92);transform-origin:50% 0">Close</div>
</div>
<div class="panel" style="left:645px;top:315px;background:#182030;--sw:0.05px">
<div class="a" style="left:0px;top:0px;width:640px;height:24px;background:#182030;"></div>
<div class="a" style="left:0px;top:23px;width:640px;height:1px;background:#22304a;"></div>
<div class="a" style="left:0px;top:0px;width:640px;height:1px;background:#2e3747;"></div>
<div class="a" style="left:0px;top:0px;width:1px;height:310px;background:#2e3747;"></div>
<div class="a" style="left:639px;top:0px;width:1px;height:310px;background:#222b3a;"></div>
<div class="a" style="left:0px;top:309px;width:640px;height:1px;background:#2a3342;"></div>
<svg class="a" style="left:6px;top:5px;" width="13" height="13" viewBox="0 0 13 13"><rect x="0" y="0" width="12.5" height="12.5" rx="1.5" fill="#e2620e"/><path d="M3 2.6 H6.6 M3 2.6 V10 M3 5.9 H6" stroke="#fff" stroke-width="1.5" fill="none"/><path d="M7.6 6.2 V9.5 H10" stroke="#fff" stroke-width="1.3" fill="none"/></svg>
<div class="t" style="left:30.5px;top:7px;color:#c5ccd6;transform:scaleX(0.853);">File</div>
<div class="t" style="left:55.5px;top:7px;color:#c5ccd6;transform:scaleX(0.919);">Edit</div>
<div class="t" style="left:82.5px;top:7px;color:#c5ccd6;transform:scaleX(0.915);">View</div>
<div class="t" style="left:112.5px;top:7px;color:#c5ccd6;transform:scaleX(0.989);">Font</div>
<div class="t" style="left:142.5px;top:7px;color:#c5ccd6;transform:scaleX(1.032);">Options</div>
<div class="t" style="left:186.5px;top:7px;color:#c5ccd6;transform:scaleX(0.947);">Help</div>
<div class="t" style="left:357.5px;top:7px;color:#aeb5c0;transform:scaleX(0.972);-webkit-text-stroke-width:0">FlatLaf Demo</div>
<svg class="a" style="left:550px;top:5px;" width="80" height="14" viewBox="0 0 80 14"><path d="M3 6.6 H11" stroke="#b0b7c1" stroke-width="1"/><rect x="36.5" y="3.5" width="7.5" height="7.5" rx="1" fill="none" stroke="#b0b7c1" stroke-width="1"/><path d="M69 3 L77 11 M77 3 L69 11" stroke="#b0b7c1" stroke-width="1"/></svg>
<div class="a" style="left:6px;top:32.2px;width:1.3px;height:1.3px;background:#c0c7d1;opacity:.7"></div>
<div class="a" style="left:6px;top:35.2px;width:1.3px;height:1.3px;background:#c0c7d1;opacity:.7"></div>
<div class="a" style="left:6px;top:38.2px;width:1.3px;height:1.3px;background:#c0c7d1;opacity:.7"></div>
<div class="a" style="left:6px;top:41.2px;width:1.3px;height:1.3px;background:#c0c7d1;opacity:.7"></div>
<svg class="a" style="left:12px;top:31px;" width="14" height="12" viewBox="0 0 14 12"><path d="M2.5 6 H11.5 M6 2.3 L2.3 6 L6 9.7" stroke="#c0c7d1" stroke-width="1.6" fill="none"/></svg>
<svg class="a" style="left:32px;top:31px;" width="14" height="12" viewBox="0 0 14 12"><path d="M2.5 6 H11.8 M8.3 2.3 L12 6 L8.3 9.7" stroke="#c0c7d1" stroke-width="1.6" fill="none"/></svg>
<div class="a" style="left:51px;top:29.5px;width:1px;height:15px;background:#263043;"></div>
<div class="a" style="left:117.5px;top:29.5px;width:1px;height:15px;background:#263043;"></div>
<div class="a" style="left:143px;top:29.5px;width:1px;height:15px;background:#263043;"></div>
<svg class="a" style="left:58px;top:30px;" width="14" height="14" viewBox="0 0 14 14"><circle cx="4" cy="3.8" r="1.7" fill="none" stroke="#c0c7d1" stroke-width="1.1"/><circle cx="4" cy="9.9" r="1.7" fill="none" stroke="#c0c7d1" stroke-width="1.1"/><path d="M5.4 5 L11.8 11.6 M5.4 8.7 L7.6 6.6 M8.6 5.6 L11.8 2.3" stroke="#c0c7d1" stroke-width="1.1" fill="none"/></svg>
<svg class="a" style="left:79px;top:30px;" width="13" height="13" viewBox="0 0 13 13"><path d="M2.3 8.7 V2.9 H7.8" stroke="#c0c7d1" stroke-width="1.1" fill="none"/><rect x="4.6" y="4.6" width="5.8" height="6.6" fill="#182030" stroke="#c0c7d1" stroke-width="1.3"/></svg>
<svg class="a" style="left:99px;top:30px;" width="13" height="13" viewBox="0 0 13 13"><rect x="2.8" y="3" width="6.6" height="8.4" fill="#182030" stroke="#c0c7d1" stroke-width="1.4"/><rect x="4.8" y="1.6" width="2.6" height="2" fill="#c0c7d1"/></svg>
<svg class="a" style="left:125px;top:30px;" width="13" height="13" viewBox="0 0 13 13"><path d="M2.4 5.2 A4.3 4.3 0 0 1 10.2 5.3" stroke="#c0c7d1" stroke-width="1.3" fill="none"/><path d="M10.4 8.2 A4.3 4.3 0 0 1 2.6 8.1" stroke="#c0c7d1" stroke-width="1.3" fill="none"/><path d="M1.2 3.6 L4.6 5.6 L1.6 6.6 Z" fill="#c0c7d1"/><path d="M11.6 9.8 L8.2 7.8 L11.2 6.8 Z" fill="#c0c7d1"/></svg>
<div class="a" style="left:148.5px;top:29px;width:17px;height:16px;background:#176e7d;border-radius:1.5px;"></div>
<svg class="a" style="left:150px;top:31px;" width="14" height="12" viewBox="0 0 14 12"><path d="M2.1 6 Q7 -0.9 11.9 6 Q7 12.9 2.1 6 Z" fill="none" stroke="#c0c7d1" stroke-width="1.5"/><circle cx="7" cy="6" r="1.4" fill="#c0c7d1"/></svg>
<div class="t" style="left:18px;top:66px;color:#c5ccd6;transform:scaleX(0.964);">Basic Components</div>
<div class="t" style="left:109.5px;top:66px;color:#c5ccd6;transform:scaleX(1.011);">More Components</div>
<div class="t" style="left:203px;top:66px;color:#c5ccd6;">Data Components</div>
<div class="t" style="left:292.5px;top:66px;color:#c5ccd6;transform:scaleX(0.972);">SplitPane &amp; Tabs</div>
<div class="t" style="left:377.5px;top:66px;color:#c5ccd6;transform:scaleX(0.986);">Option Pane</div>
<div class="t" style="left:445px;top:66px;color:#c5ccd6;transform:scaleX(0.877);">Extras</div>
<div class="a" style="left:9px;top:82px;width:477px;height:2px;background:#243044;"></div>
<div class="a" style="left:9px;top:82px;width:92px;height:2px;background:#167384;"></div>
<div class="t" style="left:17.5px;top:94px;color:#c5ccd6;transform:scaleX(0.883);">JLabel:</div>
<div class="t" style="left:17.5px;top:114px;color:#c5ccd6;transform:scaleX(0.955);">JButton:</div>
<div class="t" style="left:17.5px;top:136px;color:#c5ccd6;transform:scaleX(0.891);">JCheckBox</div>
<div class="t" style="left:17.5px;top:157px;color:#c5ccd6;transform:scaleX(0.982);">JRadioButton:</div>
<div class="t" style="left:17.5px;top:179px;color:#c5ccd6;transform:scaleX(0.980);">JComboBox:</div>
<div class="t" style="left:17.5px;top:202px;color:#c5ccd6;transform:scaleX(0.921);">JSpinner:</div>
<div class="t" style="left:17.5px;top:225px;color:#c5ccd6;transform:scaleX(0.923);">JTextField:</div>
<div class="t" style="left:17.5px;top:248px;color:#c5ccd6;transform:scaleX(0.938);">JPasswordField:</div>
<div class="t" style="left:99.5px;top:94px;color:#c5ccd6;transform:scaleX(0.933);">Enabled</div>
<div class="t" style="left:181.5px;top:94px;color:#5e6878;transform:scaleX(0.971);">Disabled</div>
<div class="a" style="left:100px;top:110px;width:54px;height:17px;background:#0f4b55;border:1px solid #6fa7b0;border-radius:2px;box-sizing:border-box;"></div>
<div class="t c" style="left:100px;top:114px;width:54px;color:#d6dde6;transform:scaleX(0.933);transform-origin:50% 0;">Enabled</div>
<div class="a" style="left:182px;top:110px;width:57px;height:17px;background:#182030;border:1px solid #4f5a6b;border-radius:2px;box-sizing:border-box;"></div>
<div class="t c" style="left:182px;top:114px;width:57px;color:#5e6878;transform:scaleX(0.971);transform-origin:50% 0;">Disabled</div>
<div class="a" style="left:264px;top:110px;width:54px;height:17px;background:#0f4b55;border:1px solid #6fa7b0;box-sizing:border-box;"></div>
<div class="t c" style="left:264px;top:114px;width:54px;color:#d6dde6;transform:scaleX(0.960);transform-origin:50% 0;">Square</div>
<div class="a" style="left:346px;top:110px;width:54px;height:17px;background:#0f4b55;border:1px solid #6fa7b0;border-radius:9px;box-sizing:border-box;"></div>
<div class="t c" style="left:346px;top:114px;width:54px;color:#d6dde6;transform:scaleX(0.960);transform-origin:50% 0;">Round</div>
<div class="a" style="left:405px;top:110.5px;width:16.5px;height:16.5px;background:#0f4b55;border:1px solid #6fa7b0;border-radius:9px;box-sizing:border-box;"></div>
<div class="t c" style="left:405px;top:111.5px;width:16.5px;color:#e4e8ee;font-size:12px;line-height:13px;-webkit-text-stroke-width:0">?</div>
<div class="a" style="left:427.5px;top:110.5px;width:16.5px;height:16.5px;border:1px solid #5e6878;border-radius:9px;box-sizing:border-box;"></div>
<div class="t c" style="left:427.5px;top:111.5px;width:16.5px;color:#5e6878;font-size:12px;line-height:13px;-webkit-text-stroke-width:0">?</div>
<div class="a" style="left:101px;top:135px;width:11px;height:11px;background:#1d2636;border:1px solid #5e6878;border-radius:1.5px;box-sizing:border-box;"></div>
<div class="t" style="left:115.5px;top:136px;color:#c5ccd6;transform:scaleX(0.933);">Enabled</div>
<div class="a" style="left:101px;top:156.5px;width:11px;height:11px;background:#1d2636;border:1px solid #5e6878;border-radius:6px;box-sizing:border-box;"></div>
<div class="t" style="left:115.5px;top:157px;color:#c5ccd6;transform:scaleX(0.933);">Enabled</div>
<div class="a" style="left:183px;top:135px;width:11px;height:11px;background:#182030;border:1px solid #5e6878;border-radius:1.5px;box-sizing:border-box;"></div>
<div class="t" style="left:197.5px;top:136px;color:#5e6878;transform:scaleX(0.971);">Disabled</div>
<div class="a" style="left:183px;top:156.5px;width:11px;height:11px;background:#182030;border:1px solid #5e6878;border-radius:6px;box-sizing:border-box;"></div>
<div class="t" style="left:197.5px;top:157px;color:#5e6878;transform:scaleX(0.971);">Disabled</div>
<div class="a" style="left:265px;top:135px;width:11px;height:11px;background:#1d2636;border:1px solid #5e6878;border-radius:1.5px;box-sizing:border-box;"></div>
<svg class="a" style="left:265px;top:135px;" width="11" height="11" viewBox="0 0 11 11"><path d="M2.6 5.6 L4.6 7.9 L8.4 2.8" stroke="#e4e8ee" stroke-width="1.4" fill="none"/></svg>
<div class="t" style="left:279.5px;top:136px;color:#c5ccd6;transform:scaleX(0.926);">Selected</div>
<div class="a" style="left:265px;top:156.5px;width:11px;height:11px;background:#1d2636;border:1px solid #5e6878;border-radius:6px;box-sizing:border-box;"></div>
<div class="a" style="left:268.5px;top:160.0px;width:4px;height:4px;background:#e4e8ee;border-radius:2px;"></div>
<div class="t" style="left:279.5px;top:157px;color:#c5ccd6;transform:scaleX(0.926);">Selected</div>
<div class="a" style="left:347px;top:135px;width:11px;height:11px;background:#182030;border:1px solid #5e6878;border-radius:1.5px;box-sizing:border-box;"></div>
<svg class="a" style="left:347px;top:135px;" width="11" height="11" viewBox="0 0 11 11"><path d="M2.6 5.6 L4.6 7.9 L8.4 2.8" stroke="#8a93a1" stroke-width="1.2" fill="none"/></svg>
<div class="t" style="left:361.5px;top:136px;color:#5e6878;transform:scaleX(0.969);">Selected disabled</div>
<div class="a" style="left:347px;top:156.5px;width:11px;height:11px;background:#182030;border:1px solid #5e6878;border-radius:6px;box-sizing:border-box;"></div>
<div class="a" style="left:351px;top:160.5px;width:3px;height:3px;background:#8a93a1;border-radius:2px;"></div>
<div class="t" style="left:361.5px;top:157px;color:#5e6878;transform:scaleX(0.969);">Selected disabled</div>
<div class="a" style="left:100px;top:175px;width:76px;height:17px;background:#182030;border:1px solid #2b3546;border-radius:2px;box-sizing:border-box;"></div>
<div class="a" style="left:159px;top:176px;width:1px;height:15px;background:#2b3546;"></div>
<svg class="a" style="left:163.1px;top:180.75px;" width="9.0" height="5.9" viewBox="0 0 9.0 5.9"><path d="M1 1 L8.0 1 L4.5 4.9 Z" fill="#d0d6de"/></svg>
<div class="t" style="left:105px;top:179px;color:#c5ccd6;transform:scaleX(0.948);">Editable</div>
<div class="a" style="left:182px;top:175px;width:76px;height:17px;background:#182030;border:1px solid #5e6878;border-radius:2px;box-sizing:border-box;"></div>
<div class="a" style="left:241px;top:176px;width:1px;height:15px;background:#5e6878;"></div>
<svg class="a" style="left:245.1px;top:180.75px;" width="9.0" height="5.9" viewBox="0 0 9.0 5.9"><path d="M1 1 L8.0 1 L4.5 4.9 Z" fill="#8a93a1"/></svg>
<div class="t" style="left:187px;top:179px;color:#5e6878;transform:scaleX(0.971);">Disabled</div>
<div class="a" style="left:264px;top:175px;width:76px;height:17px;background:#1f2a3b;border:1px solid #2b3546;border-radius:2px;box-sizing:border-box;"></div>
<svg class="a" style="left:327.1px;top:180.75px;" width="9.0" height="5.9" viewBox="0 0 9.0 5.9"><path d="M1 1 L8.0 1 L4.5 4.9 Z" fill="#d0d6de"/></svg>
<div class="t" style="left:269px;top:179px;color:#c5ccd6;transform:scaleX(1.015);">Not editable</div>
<div class="a" style="left:346px;top:175px;width:112px;height:17px;background:#182030;border:1px solid #5e6878;border-radius:2px;box-sizing:border-box;"></div>
<svg class="a" style="left:444.9px;top:180.75px;" width="9.0" height="5.9" viewBox="0 0 9.0 5.9"><path d="M1 1 L8.0 1 L4.5 4.9 Z" fill="#8a93a1"/></svg>
<div class="t" style="left:351px;top:179px;color:#5e6878;transform:scaleX(1.010);">Not editable disabled</div>
<div class="a" style="left:100px;top:198px;width:76px;height:17px;background:#182030;border:1px solid #2b3546;border-radius:2px;box-sizing:border-box;"></div>
<div class="a" style="left:159px;top:199px;width:1px;height:15px;background:#2b3546;"></div>
<svg class="a" style="left:163.5px;top:200px;" width="9" height="13" viewBox="0 0 9 13"><path d="M0.6 5.6 L4.1 1.4 L7.6 5.6 Z M0.6 7.5 L4.1 11.7 L7.6 7.5 Z" fill="#d0d6de"/></svg>
<div class="t" style="left:100px;top:202px;width:55px;text-align:right;color:#c5ccd6">0</div>
<div class="a" style="left:182px;top:198px;width:76px;height:17px;background:#182030;border:1px solid #5e6878;border-radius:2px;box-sizing:border-box;"></div>
<div class="a" style="left:241px;top:199px;width:1px;height:15px;background:#5e6878;"></div>
<svg class="a" style="left:245.5px;top:200px;" width="9" height="13" viewBox="0 0 9 13"><path d="M0.6 5.6 L4.1 1.4 L7.6 5.6 Z M0.6 7.5 L4.1 11.7 L7.6 7.5 Z" fill="#8a93a1"/></svg>
<div class="t" style="left:182px;top:202px;width:55px;text-align:right;color:#5e6878">0</div>
<div class="a" style="left:100px;top:221px;width:76px;height:17px;background:#182030;border:1px solid #2b3546;border-radius:2px;box-sizing:border-box;"></div>
<div class="t" style="left:105px;top:225px;color:#c5ccd6;transform:scaleX(0.948);">Editable</div>
<div class="a" style="left:98.5px;top:219.5px;width:79.0px;height:20.0px;border:2.5px solid #1c9aab;border-radius:2.5px;box-sizing:border-box;"></div>
<div class="a" style="left:182px;top:221px;width:76px;height:17px;background:#182030;border:1px solid #5e6878;border-radius:2px;box-sizing:border-box;"></div>
<div class="t" style="left:187px;top:225px;color:#5e6878;transform:scaleX(0.971);">Disabled</div>
<div class="a" style="left:264px;top:221px;width:76px;height:17px;background:#182030;border:1px solid #2b3546;border-radius:2px;box-sizing:border-box;"></div>
<div class="t" style="left:269px;top:225px;color:#c5ccd6;transform:scaleX(1.015);">Not editable</div>
<div class="a" style="left:346px;top:221px;width:112px;height:17px;background:#182030;border:1px solid #5e6878;border-radius:2px;box-sizing:border-box;"></div>
<div class="t" style="left:351px;top:225px;color:#5e6878;transform:scaleX(1.010);">Not editable disabled</div>
<div class="a" style="left:100px;top:244px;width:76px;height:17px;background:#182030;border:1px solid #2b3546;border-radius:2px;box-sizing:border-box;"></div>
<svg class="a" style="left:105px;top:251.8px;" width="31.6" height="3" viewBox="0 0 31.6 3"><rect x="1.00" y="0.1" width="1.9" height="1.9" fill="#c5ccd6"/><rect x="4.50" y="0.1" width="1.9" height="1.9" fill="#c5ccd6"/><rect x="8.00" y="0.1" width="1.9" height="1.9" fill="#c5ccd6"/><rect x="11.50" y="0.1" width="1.9" height="1.9" fill="#c5ccd6"/><rect x="15.00" y="0.1" width="1.9" height="1.9" fill="#c5ccd6"/><rect x="18.50" y="0.1" width="1.9" height="1.9" fill="#c5ccd6"/><rect x="22.00" y="0.1" width="1.9" height="1.9" fill="#c5ccd6"/><rect x="25.50" y="0.1" width="1.9" height="1.9" fill="#c5ccd6"/></svg>
<div class="a" style="left:182px;top:244px;width:76px;height:17px;background:#182030;border:1px solid #5e6878;border-radius:2px;box-sizing:border-box;"></div>
<svg class="a" style="left:187px;top:251.8px;" width="31.6" height="3" viewBox="0 0 31.6 3"><rect x="1.00" y="0.1" width="1.9" height="1.9" fill="#5e6878"/><rect x="4.50" y="0.1" width="1.9" height="1.9" fill="#5e6878"/><rect x="8.00" y="0.1" width="1.9" height="1.9" fill="#5e6878"/><rect x="11.50" y="0.1" width="1.9" height="1.9" fill="#5e6878"/><rect x="15.00" y="0.1" width="1.9" height="1.9" fill="#5e6878"/><rect x="18.50" y="0.1" width="1.9" height="1.9" fill="#5e6878"/><rect x="22.00" y="0.1" width="1.9" height="1.9" fill="#5e6878"/><rect x="25.50" y="0.1" width="1.9" height="1.9" fill="#5e6878"/></svg>
<div class="a" style="left:264px;top:244px;width:76px;height:17px;background:#182030;border:1px solid #2b3546;border-radius:2px;box-sizing:border-box;"></div>
<svg class="a" style="left:269px;top:251.8px;" width="46.400000000000006" height="3" viewBox="0 0 46.400000000000006 3"><rect x="1.00" y="0.1" width="1.9" height="1.9" fill="#c5ccd6"/><rect x="4.50" y="0.1" width="1.9" height="1.9" fill="#c5ccd6"/><rect x="8.00" y="0.1" width="1.9" height="1.9" fill="#c5ccd6"/><rect x="11.50" y="0.1" width="1.9" height="1.9" fill="#c5ccd6"/><rect x="15.00" y="0.1" width="1.9" height="1.9" fill="#c5ccd6"/><rect x="18.50" y="0.1" width="1.9" height="1.9" fill="#c5ccd6"/><rect x="22.00" y="0.1" width="1.9" height="1.9" fill="#c5ccd6"/><rect x="25.50" y="0.1" width="1.9" height="1.9" fill="#c5ccd6"/><rect x="29.00" y="0.1" width="1.9" height="1.9" fill="#c5ccd6"/><rect x="32.50" y="0.1" width="1.9" height="1.9" fill="#c5ccd6"/><rect x="36.00" y="0.1" width="1.9" height="1.9" fill="#c5ccd6"/><rect x="39.50" y="0.1" width="1.9" height="1.9" fill="#c5ccd6"/></svg>
<div class="a" style="left:346px;top:244px;width:112px;height:17px;background:#182030;border:1px solid #5e6878;border-radius:2px;box-sizing:border-box;"></div>
<svg class="a" style="left:351px;top:251.8px;" width="79.7" height="3" viewBox="0 0 79.7 3"><rect x="1.00" y="0.1" width="1.9" height="1.9" fill="#5e6878"/><rect x="4.50" y="0.1" width="1.9" height="1.9" fill="#5e6878"/><rect x="8.00" y="0.1" width="1.9" height="1.9" fill="#5e6878"/><rect x="11.50" y="0.1" width="1.9" height="1.9" fill="#5e6878"/><rect x="15.00" y="0.1" width="1.9" height="1.9" fill="#5e6878"/><rect x="18.50" y="0.1" width="1.9" height="1.9" fill="#5e6878"/><rect x="22.00" y="0.1" width="1.9" height="1.9" fill="#5e6878"/><rect x="25.50" y="0.1" width="1.9" height="1.9" fill="#5e6878"/><rect x="29.00" y="0.1" width="1.9" height="1.9" fill="#5e6878"/><rect x="32.50" y="0.1" width="1.9" height="1.9" fill="#5e6878"/><rect x="36.00" y="0.1" width="1.9" height="1.9" fill="#5e6878"/><rect x="39.50" y="0.1" width="1.9" height="1.9" fill="#5e6878"/><rect x="43.00" y="0.1" width="1.9" height="1.9" fill="#5e6878"/><rect x="46.50" y="0.1" width="1.9" height="1.9" fill="#5e6878"/><rect x="50.00" y="0.1" width="1.9" height="1.9" fill="#5e6878"/><rect x="53.50" y="0.1" width="1.9" height="1.9" fill="#5e6878"/><rect x="57.00" y="0.1" width="1.9" height="1.9" fill="#5e6878"/><rect x="60.50" y="0.1" width="1.9" height="1.9" fill="#5e6878"/><rect x="64.00" y="0.1" width="1.9" height="1.9" fill="#5e6878"/><rect x="67.50" y="0.1" width="1.9" height="1.9" fill="#5e6878"/><rect x="71.00" y="0.1" width="1.9" height="1.9" fill="#5e6878"/></svg>
<div class="t" style="left:494px;top:65px;color:#c5ccd6;transform:scaleX(0.914);">Themes:</div>
<svg class="a" style="left:543px;top:63px;" width="12" height="12" viewBox="0 0 12 12"><path d="M6 1.4 V6.5" stroke="#c0c7d1" stroke-width="1.5"/><path d="M2.3 4.6 L9.7 4.6 L6 8.4 Z" fill="#c0c7d1"/><path d="M1.4 10 H10.6" stroke="#c0c7d1" stroke-width="1.5"/></svg>
<svg class="a" style="left:563px;top:63px;" width="12" height="12" viewBox="0 0 12 12"><circle cx="6" cy="5.6" r="5.25" fill="#e6e8eb"/><path d="M2.9 4.3 L3.3 2.7 L4.7 3.3 Q6 3.0 7.3 3.3 L8.7 2.7 L9.1 4.3 Q9.6 5 9.4 6 Q9.0 7.6 7.1 7.9 V11.2 H4.9 V7.9 Q3.0 7.6 2.6 6 Q2.4 5 2.9 4.3 Z" fill="#182030"/><path d="M2.4 8.2 Q3.4 9.7 4.9 9.4" stroke="#e6e8eb" stroke-width="0.9" fill="none"/></svg>
<div class="a" style="left:586px;top:60.5px;width:45px;height:17px;background:#1f2a3b;border:1px solid #2b3546;border-radius:2px;box-sizing:border-box;"></div>
<div class="t" style="left:591.5px;top:65px;color:#c5ccd6;transform:scaleX(0.960);">all</div>
<svg class="a" style="left:618.0px;top:66.35px;" width="9.0" height="5.9" viewBox="0 0 9.0 5.9"><path d="M1 1 L8.0 1 L4.5 4.9 Z" fill="#d0d6de"/></svg>
<div class="a" style="left:494px;top:81.5px;width:137.5px;height:186px;background:#182030;border:1px solid #2b3546;box-sizing:border-box;"></div>
<div class="a" style="left:495px;top:82.5px;width:135.5px;height:184.0px;overflow:hidden">
<div class="a" style="left:3px;top:7.2px;width:121.5px;height:1px;background:#3b4556"></div>
<div class="t c" style="left:0px;top:2.2px;width:127.4px;color:#6b7585;transform:scaleX(0.950);transform-origin:50% 0"><span style="background:#182030;padding:0 3px">Core Themes</span></div>
<div class="t" style="left:5px;top:15.499999999999996px;color:#c5ccd6;transform:scaleX(0.962)">Flat Light</div>
<div class="t" style="left:5px;top:29.95px;color:#c5ccd6;transform:scaleX(0.960)">Flat Dark</div>
<div class="t" style="left:5px;top:44.400000000000006px;color:#c5ccd6;transform:scaleX(0.960)">Flat IntelliJ</div>
<div class="t" style="left:5px;top:58.85000000000001px;color:#c5ccd6;transform:scaleX(0.960)">Flat Darcula</div>
<div class="a" style="left:3px;top:77.80000000000003px;width:121.5px;height:1px;background:#3b4556"></div>
<div class="t c" style="left:0px;top:72.80000000000003px;width:127.4px;color:#6b7585;transform:scaleX(0.978);transform-origin:50% 0"><span style="background:#182030;padding:0 3px">Current Directory</span></div>
<div class="t" style="left:5px;top:86.10000000000001px;color:#c5ccd6;transform:scaleX(0.960)">DemoLaf</div>
<div class="a" style="left:3px;top:105.05000000000003px;width:121.5px;height:1px;background:#3b4556"></div>
<div class="t c" style="left:0px;top:100.05000000000003px;width:127.4px;color:#6b7585;transform:scaleX(0.960);transform-origin:50% 0"><span style="background:#182030;padding:0 3px">IntelliJ Themes</span></div>
<div class="t" style="left:5px;top:113.35000000000001px;color:#c5ccd6;transform:scaleX(0.960)">Arc</div>
<div class="t" style="left:5px;top:127.80000000000003px;color:#c5ccd6;transform:scaleX(0.960)">Arc - Orange</div>
<div class="t" style="left:5px;top:142.25px;color:#c5ccd6;transform:scaleX(0.960)">Arc Dark</div>
<div class="t" style="left:5px;top:156.7px;color:#c5ccd6;transform:scaleX(0.960)">Arc Dark - Orange</div>
<div class="a" style="left:0px;top:169.45px;width:127.5px;height:14.45px;background:#222c3e"></div>
<div class="t" style="left:5px;top:171.14999999999998px;color:#c5ccd6;transform:scaleX(0.960)">Carbon</div>
<div class="t" style="left:5px;top:185.59999999999997px;color:#c5ccd6;transform:scaleX(0.960)">Cobalt 2</div>
<div class="a" style="left:126.5px;top:0;width:9px;height:184.0px;background:#1b2333"></div>
<div class="a" style="left:127.79999999999995px;top:1.25px;width:7px;height:33.75px;background:#2d3a50"></div>
</div>
<div class="a" style="left:9px;top:276px;width:622px;height:1px;background:#243044;"></div>
<div class="a" style="left:9px;top:284px;width:90px;height:17px;background:#1f2a3b;border:1px solid #2b3546;border-radius:2px;box-sizing:border-box;"></div>
<div class="t" style="left:15px;top:288px;color:#c5ccd6;transform:scaleX(0.960);">Carbon</div>
<svg class="a" style="left:86.5px;top:289.35px;" width="9.0" height="5.9" viewBox="0 0 9.0 5.9"><path d="M1 1 L8.0 1 L4.5 4.9 Z" fill="#d0d6de"/></svg>
<div class="a" style="left:107px;top:286.5px;width:11px;height:11px;background:#1d2636;border:1px solid #5e6878;border-radius:1.5px;box-sizing:border-box;"></div>
<div class="t" style="left:121px;top:288px;color:#c5ccd6;transform:scaleX(1.074);">right-to-left</div>
<div class="a" style="left:176.5px;top:286.5px;width:11px;height:11px;background:#1d2636;border:1px solid #5e6878;border-radius:1.5px;box-sizing:border-box;"></div>
<svg class="a" style="left:176.5px;top:286.5px;" width="11" height="11" viewBox="0 0 11 11"><path d="M2.6 5.6 L4.6 7.9 L8.4 2.8" stroke="#e4e8ee" stroke-width="1.4" fill="none"/></svg>
<div class="t" style="left:191px;top:288px;color:#c5ccd6;transform:scaleX(0.950);">enabled</div>
<div class="t" style="left:299px;top:288px;color:#c5ccd6;transform:scaleX(0.949);">(Java 1.8.0_202;  user scale factor 1.5; Segoe UI 18)</div>
<div class="a" style="left:575px;top:284px;width:56px;height:17px;background:#11616e;border-radius:2px;"></div>
<div class="t c" style="left:575px;top:288px;width:56px;color:#ffffff;font-weight:bold;transform:scaleX(0.92);transform-origin:50% 0">Close</div>
</div>
<div class="panel" style="left:0px;top:630px;background:#eee8d6;--sw:0.15px">
<div class="a" style="left:0px;top:0px;width:640px;height:24px;background:#eee8d6;"></div>
<div class="a" style="left:0px;top:23px;width:640px;height:1px;background:#cdc8b8;"></div>
<div class="a" style="left:0px;top:0px;width:640px;height:1px;background:#a29f95;"></div>
<div class="a" style="left:0px;top:0px;width:1px;height:310px;background:#a29f95;"></div>
<div class="a" style="left:639px;top:0px;width:1px;height:310px;background:#f7f3e6;"></div>
<div class="a" style="left:0px;top:309px;width:640px;height:1px;background:#a29f95;"></div>
<svg class="a" style="left:6px;top:5px;" width="13" height="13" viewBox="0 0 13 13"><rect x="0" y="0" width="12.5" height="12.5" rx="1.5" fill="#e2620e"/><path d="M3 2.6 H6.6 M3 2.6 V10 M3 5.9 H6" stroke="#fff" stroke-width="1.5" fill="none"/><path d="M7.6 6.2 V9.5 H10" stroke="#fff" stroke-width="1.3" fill="none"/></svg>
<div class="t" style="left:30.5px;top:7px;color:#4d5a60;transform:scaleX(0.853);">File</div>
<div class="t" style="left:55.5px;top:7px;color:#4d5a60;transform:scaleX(0.919);">Edit</div>
<div class="t" style="left:82.5px;top:7px;color:#4d5a60;transform:scaleX(0.915);">View</div>
<div class="t" style="left:112.5px;top:7px;color:#4d5a60;transform:scaleX(0.989);">Font</div>
<div class="t" style="left:142.5px;top:7px;color:#4d5a60;transform:scaleX(1.032);">Options</div>
<div class="t" style="left:186.5px;top:7px;color:#4d5a60;transform:scaleX(0.947);">Help</div>
<div class="t" style="left:357.5px;top:7px;color:#6d7478;transform:scaleX(0.972);-webkit-text-stroke-width:0">FlatLaf Demo</div>
<svg class="a" style="left:550px;top:5px;" width="80" height="14" viewBox="0 0 80 14"><path d="M3 6.6 H11" stroke="#7a7d7e" stroke-width="1"/><rect x="36.5" y="3.5" width="7.5" height="7.5" rx="1" fill="none" stroke="#7a7d7e" stroke-width="1"/><path d="M69 3 L77 11 M77 3 L69 11" stroke="#7a7d7e" stroke-width="1"/></svg>
<div class="a" style="left:6px;top:32.2px;width:1.3px;height:1.3px;background:#59646a;opacity:.7"></div>
<div class="a" style="left:6px;top:35.2px;width:1.3px;height:1.3px;background:#59646a;opacity:.7"></div>
<div class="a" style="left:6px;top:38.2px;width:1.3px;height:1.3px;background:#59646a;opacity:.7"></div>
<div class="a" style="left:6px;top:41.2px;width:1.3px;height:1.3px;background:#59646a;opacity:.7"></div>
<svg class="a" style="left:12px;top:31px;" width="14" height="12" viewBox="0 0 14 12"><path d="M2.5 6 H11.5 M6 2.3 L2.3 6 L6 9.7" stroke="#59646a" stroke-width="1.6" fill="none"/></svg>
<svg class="a" style="left:32px;top:31px;" width="14" height="12" viewBox="0 0 14 12"><path d="M2.5 6 H11.8 M8.3 2.3 L12 6 L8.3 9.7" stroke="#59646a" stroke-width="1.6" fill="none"/></svg>
<div class="a" style="left:51px;top:29.5px;width:1px;height:15px;background:#d4cfbf;"></div>
<div class="a" style="left:117.5px;top:29.5px;width:1px;height:15px;background:#d4cfbf;"></div>
<div class="a" style="left:143px;top:29.5px;width:1px;height:15px;background:#d4cfbf;"></div>
<svg class="a" style="left:58px;top:30px;" width="14" height="14" viewBox="0 0 14 14"><circle cx="4" cy="3.8" r="1.7" fill="none" stroke="#59646a" stroke-width="1.1"/><circle cx="4" cy="9.9" r="1.7" fill="none" stroke="#59646a" stroke-width="1.1"/><path d="M5.4 5 L11.8 11.6 M5.4 8.7 L7.6 6.6 M8.6 5.6 L11.8 2.3" stroke="#59646a" stroke-width="1.1" fill="none"/></svg>
<svg class="a" style="left:79px;top:30px;" width="13" height="13" viewBox="0 0 13 13"><path d="M2.3 8.7 V2.9 H7.8" stroke="#59646a" stroke-width="1.1" fill="none"/><rect x="4.6" y="4.6" width="5.8" height="6.6" fill="#b5b3aa" stroke="#59646a" stroke-width="1.3"/></svg>
<svg class="a" style="left:99px;top:30px;" width="13" height="13" viewBox="0 0 13 13"><rect x="2.8" y="3" width="6.6" height="8.4" fill="none" stroke="#59646a" stroke-width="1.4"/><rect x="4.8" y="1.6" width="2.6" height="2" fill="#59646a"/></svg>
<svg class="a" style="left:125px;top:30px;" width="13" height="13" viewBox="0 0 13 13"><path d="M2.4 5.2 A4.3 4.3 0 0 1 10.2 5.3" stroke="#59646a" stroke-width="1.3" fill="none"/><path d="M10.4 8.2 A4.3 4.3 0 0 1 2.6 8.1" stroke="#59646a" stroke-width="1.3" fill="none"/><path d="M1.2 3.6 L4.6 5.6 L1.6 6.6 Z" fill="#59646a"/><path d="M11.6 9.8 L8.2 7.8 L11.2 6.8 Z" fill="#59646a"/></svg>
<div class="a" style="left:148.5px;top:29px;width:17px;height:16px;background:#f2d27e;border-radius:1.5px;"></div>
<svg class="a" style="left:150px;top:31px;" width="14" height="12" viewBox="0 0 14 12"><path d="M2.1 6 Q7 -0.9 11.9 6 Q7 12.9 2.1 6 Z" fill="none" stroke="#59646a" stroke-width="1.5"/><circle cx="7" cy="6" r="1.4" fill="#59646a"/></svg>
<div class="t" style="left:18px;top:66px;color:#3f4b52;transform:scaleX(0.964);">Basic Components</div>
<div class="t" style="left:109.5px;top:66px;color:#3f4b52;transform:scaleX(1.011);">More Components</div>
<div class="t" style="left:203px;top:66px;color:#3f4b52;">Data Components</div>
<div class="t" style="left:292.5px;top:66px;color:#3f4b52;transform:scaleX(0.972);">SplitPane &amp; Tabs</div>
<div class="t" style="left:377.5px;top:66px;color:#3f4b52;transform:scaleX(0.986);">Option Pane</div>
<div class="t" style="left:445px;top:66px;color:#3f4b52;transform:scaleX(0.877);">Extras</div>
<div class="a" style="left:9px;top:82px;width:477px;height:2px;background:#d1ccbc;"></div>
<div class="a" style="left:9px;top:82px;width:92px;height:2px;background:#3d7fc4;"></div>
<div class="t" style="left:17.5px;top:94px;color:#3f4b52;transform:scaleX(0.883);">JLabel:</div>
<div class="t" style="left:17.5px;top:114px;color:#3f4b52;transform:scaleX(0.955);">JButton:</div>
<div class="t" style="left:17.5px;top:136px;color:#3f4b52;transform:scaleX(0.891);">JCheckBox</div>
<div class="t" style="left:17.5px;top:157px;color:#3f4b52;transform:scaleX(0.982);">JRadioButton:</div>
<div class="t" style="left:17.5px;top:179px;color:#3f4b52;transform:scaleX(0.980);">JComboBox:</div>
<div class="t" style="left:17.5px;top:202px;color:#3f4b52;transform:scaleX(0.921);">JSpinner:</div>
<div class="t" style="left:17.5px;top:225px;color:#3f4b52;transform:scaleX(0.923);">JTextField:</div>
<div class="t" style="left:17.5px;top:248px;color:#3f4b52;transform:scaleX(0.938);">JPasswordField:</div>
<div class="t" style="left:99.5px;top:94px;color:#3f4b52;transform:scaleX(0.933);">Enabled</div>
<div class="t" style="left:181.5px;top:94px;color:#a3a49c;transform:scaleX(0.971);">Disabled</div>
<div class="a" style="left:100px;top:110px;width:54px;height:17px;background:#fdf6e3;border:1px solid #c3bfb0;border-radius:2px;box-sizing:border-box;"></div>
<div class="t c" style="left:100px;top:114px;width:54px;color:#3f4b52;transform:scaleX(0.933);transform-origin:50% 0;">Enabled</div>
<div class="a" style="left:182px;top:110px;width:57px;height:17px;background:#eee8d6;border:1px solid #d0cbbb;border-radius:2px;box-sizing:border-box;"></div>
<div class="t c" style="left:182px;top:114px;width:57px;color:#a3a49c;transform:scaleX(0.971);transform-origin:50% 0;">Disabled</div>
<div class="a" style="left:264px;top:110px;width:54px;height:17px;background:#fdf6e3;border:1px solid #c3bfb0;box-sizing:border-box;"></div>
<div class="t c" style="left:264px;top:114px;width:54px;color:#3f4b52;transform:scaleX(0.960);transform-origin:50% 0;">Square</div>
<div class="a" style="left:346px;top:110px;width:54px;height:17px;background:#fdf6e3;border:1px solid #c3bfb0;border-radius:9px;box-sizing:border-box;"></div>
<div class="t c" style="left:346px;top:114px;width:54px;color:#3f4b52;transform:scaleX(0.960);transform-origin:50% 0;">Round</div>
<div class="a" style="left:405px;top:110.5px;width:16.5px;height:16.5px;background:#fdf6e3;border:1px solid #c3bfb0;border-radius:9px;box-sizing:border-box;"></div>
<div class="t c" style="left:405px;top:111.5px;width:16.5px;color:#2f7fd8;font-size:12px;line-height:13px;-webkit-text-stroke-width:0">?</div>
<div class="a" style="left:427.5px;top:110.5px;width:16.5px;height:16.5px;border:1px solid #d0cbbb;border-radius:9px;box-sizing:border-box;"></div>
<div class="t c" style="left:427.5px;top:111.5px;width:16.5px;color:#a3a49c;font-size:12px;line-height:13px;-webkit-text-stroke-width:0">?</div>
<div class="a" style="left:101px;top:135px;width:11px;height:11px;background:#ffffff;border:1px solid #a3a39c;border-radius:1.5px;box-sizing:border-box;"></div>
<div class="t" style="left:115.5px;top:136px;color:#3f4b52;transform:scaleX(0.933);">Enabled</div>
<div class="a" style="left:101px;top:156.5px;width:11px;height:11px;background:#ffffff;border:1px solid #a3a39c;border-radius:6px;box-sizing:border-box;"></div>
<div class="t" style="left:115.5px;top:157px;color:#3f4b52;transform:scaleX(0.933);">Enabled</div>
<div class="a" style="left:183px;top:135px;width:11px;height:11px;background:#eee8d6;border:1px solid #cbc6b7;border-radius:1.5px;box-sizing:border-box;"></div>
<div class="t" style="left:197.5px;top:136px;color:#a3a49c;transform:scaleX(0.971);">Disabled</div>
<div class="a" style="left:183px;top:156.5px;width:11px;height:11px;background:#eee8d6;border:1px solid #cbc6b7;border-radius:6px;box-sizing:border-box;"></div>
<div class="t" style="left:197.5px;top:157px;color:#a3a49c;transform:scaleX(0.971);">Disabled</div>
<div class="a" style="left:265px;top:135px;width:11px;height:11px;background:#3e7dc3;border:1px solid #3e7dc3;border-radius:1.5px;box-sizing:border-box;"></div>
<svg class="a" style="left:265px;top:135px;" width="11" height="11" viewBox="0 0 11 11"><path d="M2.6 5.6 L4.6 7.9 L8.4 2.8" stroke="#ffffff" stroke-width="1.4" fill="none"/></svg>
<div class="t" style="left:279.5px;top:136px;color:#3f4b52;transform:scaleX(0.926);">Selected</div>
<div class="a" style="left:265px;top:156.5px;width:11px;height:11px;background:#3e7dc3;border:1px solid #3e7dc3;border-radius:6px;box-sizing:border-box;"></div>
<div class="a" style="left:268.5px;top:160.0px;width:4px;height:4px;background:#ffffff;border-radius:2px;"></div>
<div class="t" style="left:279.5px;top:157px;color:#3f4b52;transform:scaleX(0.926);">Selected</div>
<div class="a" style="left:347px;top:135px;width:11px;height:11px;background:#eee8d6;border:1px solid #cbc6b7;border-radius:1.5px;box-sizing:border-box;"></div>
<svg class="a" style="left:347px;top:135px;" width="11" height="11" viewBox="0 0 11 11"><path d="M2.6 5.6 L4.6 7.9 L8.4 2.8" stroke="#a3a49c" stroke-width="1.2" fill="none"/></svg>
<div class="t" style="left:361.5px;top:136px;color:#a3a49c;transform:scaleX(0.969);">Selected disabled</div>
<div class="a" style="left:347px;top:156.5px;width:11px;height:11px;background:#eee8d6;border:1px solid #cbc6b7;border-radius:6px;box-sizing:border-box;"></div>
<div class="a" style="left:351px;top:160.5px;width:3px;height:3px;background:#a3a49c;border-radius:2px;"></div>
<div class="t" style="left:361.5px;top:157px;color:#a3a49c;transform:scaleX(0.969);">Selected disabled</div>
<div class="a" style="left:100px;top:175px;width:76px;height:17px;background:#fdf6e3;border:1px solid #c9c4b4;border-radius:2px;box-sizing:border-box;"></div>
<div class="a" style="left:159px;top:176px;width:1px;height:15px;background:#c9c4b4;"></div>
<svg class="a" style="left:163.1px;top:180.75px;" width="9.0" height="5.9" viewBox="0 0 9.0 5.9"><path d="M1 1 L8.0 1 L4.5 4.9 Z" fill="#3f4b52"/></svg>
<div class="t" style="left:105px;top:179px;color:#3f4b52;transform:scaleX(0.948);">Editable</div>
<div class="a" style="left:182px;top:175px;width:76px;height:17px;background:#eee8d6;border:1px solid #d0cbbb;border-radius:2px;box-sizing:border-box;"></div>
<div class="a" style="left:241px;top:176px;width:1px;height:15px;background:#d0cbbb;"></div>
<svg class="a" style="left:245.1px;top:180.75px;" width="9.0" height="5.9" viewBox="0 0 9.0 5.9"><path d="M1 1 L8.0 1 L4.5 4.9 Z" fill="#b0aea4"/></svg>
<div class="t" style="left:187px;top:179px;color:#a3a49c;transform:scaleX(0.971);">Disabled</div>
<div class="a" style="left:264px;top:175px;width:76px;height:17px;background:#fdf6e3;border:1px solid #c9c4b4;border-radius:2px;box-sizing:border-box;"></div>
<svg class="a" style="left:327.1px;top:180.75px;" width="9.0" height="5.9" viewBox="0 0 9.0 5.9"><path d="M1 1 L8.0 1 L4.5 4.9 Z" fill="#3f4b52"/></svg>
<div class="t" style="left:269px;top:179px;color:#3f4b52;transform:scaleX(1.015);">Not editable</div>
<div class="a" style="left:346px;top:175px;width:112px;height:17px;background:#eee8d6;border:1px solid #d0cbbb;border-radius:2px;box-sizing:border-box;"></div>
<svg class="a" style="left:444.9px;top:180.75px;" width="9.0" height="5.9" viewBox="0 0 9.0 5.9"><path d="M1 1 L8.0 1 L4.5 4.9 Z" fill="#b0aea4"/></svg>
<div class="t" style="left:351px;top:179px;color:#a3a49c;transform:scaleX(1.010);">Not editable disabled</div>
<div class="a" style="left:100px;top:198px;width:76px;height:17px;background:#fdf6e3;border:1px solid #c9c4b4;border-radius:2px;box-sizing:border-box;"></div>
<div class="a" style="left:159px;top:199px;width:1px;height:15px;background:#c9c4b4;"></div>
<svg class="a" style="left:163.5px;top:200px;" width="9" height="13" viewBox="0 0 9 13"><path d="M0.6 5.6 L4.1 1.4 L7.6 5.6 Z M0.6 7.5 L4.1 11.7 L7.6 7.5 Z" fill="#3f4b52"/></svg>
<div class="t" style="left:100px;top:202px;width:55px;text-align:right;color:#3f4b52">0</div>
<div class="a" style="left:182px;top:198px;width:76px;height:17px;background:#eee8d6;border:1px solid #d0cbbb;border-radius:2px;box-sizing:border-box;"></div>
<div class="a" style="left:241px;top:199px;width:1px;height:15px;background:#d0cbbb;"></div>
<svg class="a" style="left:245.5px;top:200px;" width="9" height="13" viewBox="0 0 9 13"><path d="M0.6 5.6 L4.1 1.4 L7.6 5.6 Z M0.6 7.5 L4.1 11.7 L7.6 7.5 Z" fill="#b0aea4"/></svg>
<div class="t" style="left:182px;top:202px;width:55px;text-align:right;color:#a3a49c">0</div>
<div class="a" style="left:100px;top:221px;width:76px;height:17px;background:#fdf6e3;border:1px solid #c9c4b4;border-radius:2px;box-sizing:border-box;"></div>
<div class="t" style="left:105px;top:225px;color:#3f4b52;transform:scaleX(0.948);">Editable</div>
<div class="a" style="left:98.5px;top:219.5px;width:79.0px;height:20.0px;border:2.5px solid #7eaad8;border-radius:2.5px;box-sizing:border-box;"></div>
<div class="a" style="left:136px;top:223.5px;width:1px;height:12px;background:#3f4b52;"></div>
<div class="a" style="left:182px;top:221px;width:76px;height:17px;background:#eee8d6;border:1px solid #d0cbbb;border-radius:2px;box-sizing:border-box;"></div>
<div class="t" style="left:187px;top:225px;color:#8f918b;transform:scaleX(0.971);">Disabled</div>
<div class="a" style="left:264px;top:221px;width:76px;height:17px;background:#eee8d6;border:1px solid #c9c4b4;border-radius:2px;box-sizing:border-box;"></div>
<div class="t" style="left:269px;top:225px;color:#3f4b52;transform:scaleX(1.015);">Not editable</div>
<div class="a" style="left:346px;top:221px;width:112px;height:17px;background:#eee8d6;border:1px solid #d0cbbb;border-radius:2px;box-sizing:border-box;"></div>
<div class="t" style="left:351px;top:225px;color:#8f918b;transform:scaleX(1.010);">Not editable disabled</div>
<div class="a" style="left:100px;top:244px;width:76px;height:17px;background:#fdf6e3;border:1px solid #c9c4b4;border-radius:2px;box-sizing:border-box;"></div>
<svg class="a" style="left:105px;top:251.8px;" width="31.6" height="3" viewBox="0 0 31.6 3"><rect x="1.00" y="0.1" width="1.9" height="1.9" fill="#3f4b52"/><rect x="4.50" y="0.1" width="1.9" height="1.9" fill="#3f4b52"/><rect x="8.00" y="0.1" width="1.9" height="1.9" fill="#3f4b52"/><rect x="11.50" y="0.1" width="1.9" height="1.9" fill="#3f4b52"/><rect x="15.00" y="0.1" width="1.9" height="1.9" fill="#3f4b52"/><rect x="18.50" y="0.1" width="1.9" height="1.9" fill="#3f4b52"/><rect x="22.00" y="0.1" width="1.9" height="1.9" fill="#3f4b52"/><rect x="25.50" y="0.1" width="1.9" height="1.9" fill="#3f4b52"/></svg>
<div class="a" style="left:182px;top:244px;width:76px;height:17px;background:#eee8d6;border:1px solid #d0cbbb;border-radius:2px;box-sizing:border-box;"></div>
<svg class="a" style="left:187px;top:251.8px;" width="31.6" height="3" viewBox="0 0 31.6 3"><rect x="1.00" y="0.1" width="1.9" height="1.9" fill="#8f918b"/><rect x="4.50" y="0.1" width="1.9" height="1.9" fill="#8f918b"/><rect x="8.00" y="0.1" width="1.9" height="1.9" fill="#8f918b"/><rect x="11.50" y="0.1" width="1.9" height="1.9" fill="#8f918b"/><rect x="15.00" y="0.1" width="1.9" height="1.9" fill="#8f918b"/><rect x="18.50" y="0.1" width="1.9" height="1.9" fill="#8f918b"/><rect x="22.00" y="0.1" width="1.9" height="1.9" fill="#8f918b"/><rect x="25.50" y="0.1" width="1.9" height="1.9" fill="#8f918b"/></svg>
<div class="a" style="left:264px;top:244px;width:76px;height:17px;background:#eee8d6;border:1px solid #c9c4b4;border-radius:2px;box-sizing:border-box;"></div>
<svg class="a" style="left:269px;top:251.8px;" width="46.400000000000006" height="3" viewBox="0 0 46.400000000000006 3"><rect x="1.00" y="0.1" width="1.9" height="1.9" fill="#3f4b52"/><rect x="4.50" y="0.1" width="1.9" height="1.9" fill="#3f4b52"/><rect x="8.00" y="0.1" width="1.9" height="1.9" fill="#3f4b52"/><rect x="11.50" y="0.1" width="1.9" height="1.9" fill="#3f4b52"/><rect x="15.00" y="0.1" width="1.9" height="1.9" fill="#3f4b52"/><rect x="18.50" y="0.1" width="1.9" height="1.9" fill="#3f4b52"/><rect x="22.00" y="0.1" width="1.9" height="1.9" fill="#3f4b52"/><rect x="25.50" y="0.1" width="1.9" height="1.9" fill="#3f4b52"/><rect x="29.00" y="0.1" width="1.9" height="1.9" fill="#3f4b52"/><rect x="32.50" y="0.1" width="1.9" height="1.9" fill="#3f4b52"/><rect x="36.00" y="0.1" width="1.9" height="1.9" fill="#3f4b52"/><rect x="39.50" y="0.1" width="1.9" height="1.9" fill="#3f4b52"/></svg>
<div class="a" style="left:346px;top:244px;width:112px;height:17px;background:#eee8d6;border:1px solid #d0cbbb;border-radius:2px;box-sizing:border-box;"></div>
<svg class="a" style="left:351px;top:251.8px;" width="79.7" height="3" viewBox="0 0 79.7 3"><rect x="1.00" y="0.1" width="1.9" height="1.9" fill="#8f918b"/><rect x="4.50" y="0.1" width="1.9" height="1.9" fill="#8f918b"/><rect x="8.00" y="0.1" width="1.9" height="1.9" fill="#8f918b"/><rect x="11.50" y="0.1" width="1.9" height="1.9" fill="#8f918b"/><rect x="15.00" y="0.1" width="1.9" height="1.9" fill="#8f918b"/><rect x="18.50" y="0.1" width="1.9" height="1.9" fill="#8f918b"/><rect x="22.00" y="0.1" width="1.9" height="1.9" fill="#8f918b"/><rect x="25.50" y="0.1" width="1.9" height="1.9" fill="#8f918b"/><rect x="29.00" y="0.1" width="1.9" height="1.9" fill="#8f918b"/><rect x="32.50" y="0.1" width="1.9" height="1.9" fill="#8f918b"/><rect x="36.00" y="0.1" width="1.9" height="1.9" fill="#8f918b"/><rect x="39.50" y="0.1" width="1.9" height="1.9" fill="#8f918b"/><rect x="43.00" y="0.1" width="1.9" height="1.9" fill="#8f918b"/><rect x="46.50" y="0.1" width="1.9" height="1.9" fill="#8f918b"/><rect x="50.00" y="0.1" width="1.9" height="1.9" fill="#8f918b"/><rect x="53.50" y="0.1" width="1.9" height="1.9" fill="#8f918b"/><rect x="57.00" y="0.1" width="1.9" height="1.9" fill="#8f918b"/><rect x="60.50" y="0.1" width="1.9" height="1.9" fill="#8f918b"/><rect x="64.00" y="0.1" width="1.9" height="1.9" fill="#8f918b"/><rect x="67.50" y="0.1" width="1.9" height="1.9" fill="#8f918b"/><rect x="71.00" y="0.1" width="1.9" height="1.9" fill="#8f918b"/></svg>
<div class="t" style="left:494px;top:65px;color:#3f4b52;transform:scaleX(0.914);">Themes:</div>
<svg class="a" style="left:543px;top:63px;" width="12" height="12" viewBox="0 0 12 12"><path d="M6 1.4 V6.5" stroke="#59646a" stroke-width="1.5"/><path d="M2.3 4.6 L9.7 4.6 L6 8.4 Z" fill="#59646a"/><path d="M1.4 10 H10.6" stroke="#59646a" stroke-width="1.5"/></svg>
<svg class="a" style="left:563px;top:63px;" width="12" height="12" viewBox="0 0 12 12"><circle cx="6" cy="5.6" r="5.25" fill="#151515"/><path d="M2.9 4.3 L3.3 2.7 L4.7 3.3 Q6 3.0 7.3 3.3 L8.7 2.7 L9.1 4.3 Q9.6 5 9.4 6 Q9.0 7.6 7.1 7.9 V11.2 H4.9 V7.9 Q3.0 7.6 2.6 6 Q2.4 5 2.9 4.3 Z" fill="#eee8d6"/><path d="M2.4 8.2 Q3.4 9.7 4.9 9.4" stroke="#151515" stroke-width="0.9" fill="none"/></svg>
<div class="a" style="left:586px;top:60.5px;width:45px;height:17px;background:#fdf6e3;border:1px solid #c9c4b4;border-radius:2px;box-sizing:border-box;"></div>
<div class="t" style="left:591.5px;top:65px;color:#3f4b52;transform:scaleX(0.960);">all</div>
<svg class="a" style="left:618.0px;top:66.35px;" width="9.0" height="5.9" viewBox="0 0 9.0 5.9"><path d="M1 1 L8.0 1 L4.5 4.9 Z" fill="#3f4b52"/></svg>
<div class="a" style="left:494px;top:81.5px;width:137.5px;height:186px;background:#fdf6e3;border:1px solid #c9c4b4;box-sizing:border-box;"></div>
<div class="a" style="left:495px;top:82.5px;width:135.5px;height:184.0px;overflow:hidden">
<div class="t" style="left:5px;top:-6.05px;color:#3f4b52;transform:scaleX(0.960)">Gruvbox Dark Medium</div>
<div class="t" style="left:5px;top:8.399999999999988px;color:#3f4b52;transform:scaleX(0.960)">Gruvbox Dark Soft</div>
<div class="t" style="left:5px;top:22.849999999999977px;color:#3f4b52;transform:scaleX(0.960)">Hiberbee Dark</div>
<div class="t" style="left:5px;top:37.29999999999997px;color:#3f4b52;transform:scaleX(0.960)">High contrast</div>
<div class="t" style="left:5px;top:51.74999999999996px;color:#3f4b52;transform:scaleX(0.960)">Light Flat</div>
<div class="t" style="left:5px;top:66.19999999999995px;color:#3f4b52;transform:scaleX(0.960)">Material Design Dark</div>
<div class="t" style="left:5px;top:80.64999999999993px;color:#3f4b52;transform:scaleX(0.960)">Monocai</div>
<div class="t" style="left:5px;top:95.09999999999992px;color:#3f4b52;transform:scaleX(0.960)">Nord</div>
<div class="t" style="left:5px;top:109.54999999999991px;color:#3f4b52;transform:scaleX(0.960)">One Dark</div>
<div class="t" style="left:5px;top:123.9999999999999px;color:#3f4b52;transform:scaleX(0.960)">Solarized Dark</div>
<div class="a" style="left:0px;top:136.7499999999999px;width:127.5px;height:14.45px;background:#d5d2c5"></div>
<div class="t" style="left:5px;top:138.44999999999987px;color:#3f4b52;transform:scaleX(0.960)">Solarized Light</div>
<div class="t" style="left:5px;top:152.89999999999986px;color:#3f4b52;transform:scaleX(0.960)">Spacegray</div>
<div class="t" style="left:5px;top:167.34999999999985px;color:#3f4b52;transform:scaleX(0.960)">Vuesion</div>
<div class="a" style="left:3px;top:186.2999999999999px;width:121.5px;height:1px;background:#c9c4b4"></div>
<div class="t c" style="left:0px;top:181.2999999999999px;width:127.4px;color:#a3a49c;transform:scaleX(0.960);transform-origin:50% 0"><span style="background:#fdf6e3;padding:0 3px">Material Theme UI Lite</span></div>
<div class="a" style="left:126.5px;top:0;width:9px;height:184.0px;background:#f3eee0"></div>
<div class="a" style="left:127.79999999999995px;top:64.6px;width:7px;height:33.70000000000002px;background:#cfcdc4"></div>
</div>
<div class="a" style="left:9px;top:276px;width:622px;height:1px;background:#cbc6b6;"></div>
<div class="a" style="left:9px;top:284px;width:90px;height:17px;background:#fdf6e3;border:1px solid #c9c4b4;border-radius:2px;box-sizing:border-box;"></div>
<div class="t" style="left:15px;top:288px;color:#3f4b52;transform:scaleX(0.960);">Solarized Light</div>
<svg class="a" style="left:86.5px;top:289.35px;" width="9.0" height="5.9" viewBox="0 0 9.0 5.9"><path d="M1 1 L8.0 1 L4.5 4.9 Z" fill="#3f4b52"/></svg>
<div class="a" style="left:107px;top:286.5px;width:11px;height:11px;background:#ffffff;border:1px solid #a3a39c;border-radius:1.5px;box-sizing:border-box;"></div>
<div class="t" style="left:121px;top:288px;color:#3f4b52;transform:scaleX(1.074);">right-to-left</div>
<div class="a" style="left:176.5px;top:286.5px;width:11px;height:11px;background:#3e7dc3;border:1px solid #3e7dc3;border-radius:1.5px;box-sizing:border-box;"></div>
<svg class="a" style="left:176.5px;top:286.5px;" width="11" height="11" viewBox="0 0 11 11"><path d="M2.6 5.6 L4.6 7.9 L8.4 2.8" stroke="#ffffff" stroke-width="1.4" fill="none"/></svg>
<div class="t" style="left:191px;top:288px;color:#3f4b52;transform:scaleX(0.950);">enabled</div>
<div class="t" style="left:299px;top:288px;color:#3f4b52;transform:scaleX(0.949);">(Java 1.8.0_202;  user scale factor 1.5; Segoe UI 18)</div>
<div class="a" style="left:575px;top:284px;width:56px;height:17px;background:#3e7cbf;border-radius:2px;"></div>
<div class="t c" style="left:575px;top:288px;width:56px;color:#ffffff;font-weight:bold;transform:scaleX(0.92);transform-origin:50% 0">Close</div>
</div>
<div class="panel" style="left:645px;top:630px;background:#2c2a3b;--sw:0.05px">
<div class="a" style="left:0px;top:0px;width:640px;height:24px;background:#2c2a3b;"></div>
<div class="a" style="left:0px;top:23px;width:640px;height:1px;background:#1f1e2a;"></div>
<div class="a" style="left:0px;top:0px;width:640px;height:1px;background:#3e3c4e;"></div>
<div class="a" style="left:0px;top:0px;width:1px;height:310px;background:#3e3c4e;"></div>
<div class="a" style="left:639px;top:0px;width:1px;height:310px;background:#34324a;"></div>
<div class="a" style="left:0px;top:309px;width:640px;height:1px;background:#3a384b;"></div>
<svg class="a" style="left:6px;top:5px;" width="13" height="13" viewBox="0 0 13 13"><rect x="0" y="0" width="12.5" height="12.5" rx="1.5" fill="#e2620e"/><path d="M3 2.6 H6.6 M3 2.6 V10 M3 5.9 H6" stroke="#fff" stroke-width="1.5" fill="none"/><path d="M7.6 6.2 V9.5 H10" stroke="#fff" stroke-width="1.3" fill="none"/></svg>
<div class="t" style="left:30.5px;top:7px;color:#c9c7d6;transform:scaleX(0.853);">File</div>
<div class="t" style="left:55.5px;top:7px;color:#c9c7d6;transform:scaleX(0.919);">Edit</div>
<div class="t" style="left:82.5px;top:7px;color:#c9c7d6;transform:scaleX(0.915);">View</div>
<div class="t" style="left:112.5px;top:7px;color:#c9c7d6;transform:scaleX(0.989);">Font</div>
<div class="t" style="left:142.5px;top:7px;color:#c9c7d6;transform:scaleX(1.032);">Options</div>
<div class="t" style="left:186.5px;top:7px;color:#c9c7d6;transform:scaleX(0.947);">Help</div>
<div class="t" style="left:357.5px;top:7px;color:#b3b1c0;transform:scaleX(0.972);-webkit-text-stroke-width:0">FlatLaf Demo</div>
<svg class="a" style="left:550px;top:5px;" width="80" height="14" viewBox="0 0 80 14"><path d="M3 6.6 H11" stroke="#5a576d" stroke-width="1"/><rect x="36.5" y="3.5" width="7.5" height="7.5" rx="1" fill="none" stroke="#5a576d" stroke-width="1"/><path d="M69 3 L77 11 M77 3 L69 11" stroke="#5a576d" stroke-width="1"/></svg>
<div class="a" style="left:6px;top:32.2px;width:1.3px;height:1.3px;background:#c3c1d0;opacity:.7"></div>
<div class="a" style="left:6px;top:35.2px;width:1.3px;height:1.3px;background:#c3c1d0;opacity:.7"></div>
<div class="a" style="left:6px;top:38.2px;width:1.3px;height:1.3px;background:#c3c1d0;opacity:.7"></div>
<div class="a" style="left:6px;top:41.2px;width:1.3px;height:1.3px;background:#c3c1d0;opacity:.7"></div>
<svg class="a" style="left:12px;top:31px;" width="14" height="12" viewBox="0 0 14 12"><path d="M2.5 6 H11.5 M6 2.3 L2.3 6 L6 9.7" stroke="#c3c1d0" stroke-width="1.6" fill="none"/></svg>
<svg class="a" style="left:32px;top:31px;" width="14" height="12" viewBox="0 0 14 12"><path d="M2.5 6 H11.8 M8.3 2.3 L12 6 L8.3 9.7" stroke="#c3c1d0" stroke-width="1.6" fill="none"/></svg>
<div class="a" style="left:51px;top:29.5px;width:1px;height:15px;background:#3a384c;"></div>
<div class="a" style="left:117.5px;top:29.5px;width:1px;height:15px;background:#3a384c;"></div>
<div class="a" style="left:143px;top:29.5px;width:1px;height:15px;background:#3a384c;"></div>
<svg class="a" style="left:58px;top:30px;" width="14" height="14" viewBox="0 0 14 14"><circle cx="4" cy="3.8" r="1.7" fill="none" stroke="#c3c1d0" stroke-width="1.1"/><circle cx="4" cy="9.9" r="1.7" fill="none" stroke="#c3c1d0" stroke-width="1.1"/><path d="M5.4 5 L11.8 11.6 M5.4 8.7 L7.6 6.6 M8.6 5.6 L11.8 2.3" stroke="#c3c1d0" stroke-width="1.1" fill="none"/></svg>
<svg class="a" style="left:79px;top:30px;" width="13" height="13" viewBox="0 0 13 13"><path d="M2.3 8.7 V2.9 H7.8" stroke="#c3c1d0" stroke-width="1.1" fill="none"/><rect x="4.6" y="4.6" width="5.8" height="6.6" fill="#2c2a3b" stroke="#c3c1d0" stroke-width="1.3"/></svg>
<svg class="a" style="left:99px;top:30px;" width="13" height="13" viewBox="0 0 13 13"><rect x="2.8" y="3" width="6.6" height="8.4" fill="#2c2a3b" stroke="#c3c1d0" stroke-width="1.4"/><rect x="4.8" y="1.6" width="2.6" height="2" fill="#c3c1d0"/></svg>
<svg class="a" style="left:125px;top:30px;" width="13" height="13" viewBox="0 0 13 13"><path d="M2.4 5.2 A4.3 4.3 0 0 1 10.2 5.3" stroke="#c3c1d0" stroke-width="1.3" fill="none"/><path d="M10.4 8.2 A4.3 4.3 0 0 1 2.6 8.1" stroke="#c3c1d0" stroke-width="1.3" fill="none"/><path d="M1.2 3.6 L4.6 5.6 L1.6 6.6 Z" fill="#c3c1d0"/><path d="M11.6 9.8 L8.2 7.8 L11.2 6.8 Z" fill="#c3c1d0"/></svg>
<div class="a" style="left:148.5px;top:29px;width:17px;height:16px;background:#4a4562;border-radius:1.5px;"></div>
<svg class="a" style="left:150px;top:31px;" width="14" height="12" viewBox="0 0 14 12"><path d="M2.1 6 Q7 -0.9 11.9 6 Q7 12.9 2.1 6 Z" fill="none" stroke="#c3c1d0" stroke-width="1.5"/><circle cx="7" cy="6" r="1.4" fill="#c3c1d0"/></svg>
<div class="t" style="left:18px;top:66px;color:#cbc9d8;transform:scaleX(0.964);">Basic Components</div>
<div class="t" style="left:109.5px;top:66px;color:#cbc9d8;transform:scaleX(1.011);">More Components</div>
<div class="t" style="left:203px;top:66px;color:#cbc9d8;">Data Components</div>
<div class="t" style="left:292.5px;top:66px;color:#cbc9d8;transform:scaleX(0.972);">SplitPane &amp; Tabs</div>
<div class="t" style="left:377.5px;top:66px;color:#cbc9d8;transform:scaleX(0.986);">Option Pane</div>
<div class="t" style="left:445px;top:66px;color:#cbc9d8;transform:scaleX(0.877);">Extras</div>
<div class="a" style="left:9px;top:82px;width:477px;height:2px;background:#23212f;"></div>
<div class="a" style="left:9px;top:82px;width:92px;height:2px;background:#9b46c8;"></div>
<div class="t" style="left:17.5px;top:94px;color:#cbc9d8;transform:scaleX(0.883);">JLabel:</div>
<div class="t" style="left:17.5px;top:114px;color:#cbc9d8;transform:scaleX(0.955);">JButton:</div>
<div class="t" style="left:17.5px;top:136px;color:#cbc9d8;transform:scaleX(0.891);">JCheckBox</div>
<div class="t" style="left:17.5px;top:157px;color:#cbc9d8;transform:scaleX(0.982);">JRadioButton:</div>
<div class="t" style="left:17.5px;top:179px;color:#cbc9d8;transform:scaleX(0.980);">JComboBox:</div>
<div class="t" style="left:17.5px;top:202px;color:#cbc9d8;transform:scaleX(0.921);">JSpinner:</div>
<div class="t" style="left:17.5px;top:225px;color:#cbc9d8;transform:scaleX(0.923);">JTextField:</div>
<div class="t" style="left:17.5px;top:248px;color:#cbc9d8;transform:scaleX(0.938);">JPasswordField:</div>
<div class="t" style="left:99.5px;top:94px;color:#cbc9d8;transform:scaleX(0.933);">Enabled</div>
<div class="t" style="left:181.5px;top:94px;color:#5f5c73;transform:scaleX(0.971);">Disabled</div>
<div class="a" style="left:100px;top:110px;width:54px;height:17px;background:#48425e;border:1px solid #514b68;border-radius:2px;box-sizing:border-box;"></div>
<div class="t c" style="left:100px;top:114px;width:54px;color:#d8d6e3;transform:scaleX(0.933);transform-origin:50% 0;">Enabled</div>
<div class="a" style="left:182px;top:110px;width:57px;height:17px;background:#2c2a3b;border:1px solid #444159;border-radius:2px;box-sizing:border-box;"></div>
<div class="t c" style="left:182px;top:114px;width:57px;color:#5f5c73;transform:scaleX(0.971);transform-origin:50% 0;">Disabled</div>
<div class="a" style="left:264px;top:110px;width:54px;height:17px;background:#48425e;border:1px solid #514b68;box-sizing:border-box;"></div>
<div class="t c" style="left:264px;top:114px;width:54px;color:#d8d6e3;transform:scaleX(0.960);transform-origin:50% 0;">Square</div>
<div class="a" style="left:346px;top:110px;width:54px;height:17px;background:#48425e;border:1px solid #514b68;border-radius:9px;box-sizing:border-box;"></div>
<div class="t c" style="left:346px;top:114px;width:54px;color:#d8d6e3;transform:scaleX(0.960);transform-origin:50% 0;">Round</div>
<div class="a" style="left:405px;top:110.5px;width:16.5px;height:16.5px;background:#48425e;border:1px solid #514b68;border-radius:9px;box-sizing:border-box;"></div>
<div class="t c" style="left:405px;top:111.5px;width:16.5px;color:#e2e0ea;font-size:12px;line-height:13px;-webkit-text-stroke-width:0">?</div>
<div class="a" style="left:427.5px;top:110.5px;width:16.5px;height:16.5px;border:1px solid #46435a;border-radius:9px;box-sizing:border-box;"></div>
<div class="t c" style="left:427.5px;top:111.5px;width:16.5px;color:#5f5c73;font-size:12px;line-height:13px;-webkit-text-stroke-width:0">?</div>
<div class="a" style="left:101px;top:135px;width:11px;height:11px;background:#2f2d3f;border:1px solid #5f5c73;border-radius:1.5px;box-sizing:border-box;"></div>
<div class="t" style="left:115.5px;top:136px;color:#cbc9d8;transform:scaleX(0.933);">Enabled</div>
<div class="a" style="left:101px;top:156.5px;width:11px;height:11px;background:#2f2d3f;border:1px solid #5f5c73;border-radius:6px;box-sizing:border-box;"></div>
<div class="t" style="left:115.5px;top:157px;color:#cbc9d8;transform:scaleX(0.933);">Enabled</div>
<div class="a" style="left:183px;top:135px;width:11px;height:11px;background:#2c2a3b;border:1px solid #46435a;border-radius:1.5px;box-sizing:border-box;"></div>
<div class="t" style="left:197.5px;top:136px;color:#5f5c73;transform:scaleX(0.971);">Disabled</div>
<div class="a" style="left:183px;top:156.5px;width:11px;height:11px;background:#2c2a3b;border:1px solid #46435a;border-radius:6px;box-sizing:border-box;"></div>
<div class="t" style="left:197.5px;top:157px;color:#5f5c73;transform:scaleX(0.971);">Disabled</div>
<div class="a" style="left:265px;top:135px;width:11px;height:11px;background:#2f2d3f;border:1px solid #5f5c73;border-radius:1.5px;box-sizing:border-box;"></div>
<svg class="a" style="left:265px;top:135px;" width="11" height="11" viewBox="0 0 11 11"><path d="M2.6 5.6 L4.6 7.9 L8.4 2.8" stroke="#e2e0ea" stroke-width="1.4" fill="none"/></svg>
<div class="t" style="left:279.5px;top:136px;color:#cbc9d8;transform:scaleX(0.926);">Selected</div>
<div class="a" style="left:265px;top:156.5px;width:11px;height:11px;background:#2f2d3f;border:1px solid #5f5c73;border-radius:6px;box-sizing:border-box;"></div>
<div class="a" style="left:268.5px;top:160.0px;width:4px;height:4px;background:#e2e0ea;border-radius:2px;"></div>
<div class="t" style="left:279.5px;top:157px;color:#cbc9d8;transform:scaleX(0.926);">Selected</div>
<div class="a" style="left:347px;top:135px;width:11px;height:11px;background:#2c2a3b;border:1px solid #46435a;border-radius:1.5px;box-sizing:border-box;"></div>
<svg class="a" style="left:347px;top:135px;" width="11" height="11" viewBox="0 0 11 11"><path d="M2.6 5.6 L4.6 7.9 L8.4 2.8" stroke="#6a677e" stroke-width="1.2" fill="none"/></svg>
<div class="t" style="left:361.5px;top:136px;color:#5f5c73;transform:scaleX(0.969);">Selected disabled</div>
<div class="a" style="left:347px;top:156.5px;width:11px;height:11px;background:#2c2a3b;border:1px solid #46435a;border-radius:6px;box-sizing:border-box;"></div>
<div class="a" style="left:351px;top:160.5px;width:3px;height:3px;background:#6a677e;border-radius:2px;"></div>
<div class="t" style="left:361.5px;top:157px;color:#5f5c73;transform:scaleX(0.969);">Selected disabled</div>
<div class="a" style="left:100px;top:175px;width:76px;height:17px;background:#39364d;border:1px solid #3f3c54;border-radius:2px;box-sizing:border-box;"></div>
<div class="a" style="left:159px;top:176px;width:1px;height:15px;background:#3f3c54;"></div>
<svg class="a" style="left:163.1px;top:180.75px;" width="9.0" height="5.9" viewBox="0 0 9.0 5.9"><path d="M1 1 L8.0 1 L4.5 4.9 Z" fill="#d0cedc"/></svg>
<div class="t" style="left:105px;top:179px;color:#cbc9d8;transform:scaleX(0.948);">Editable</div>
<div class="a" style="left:182px;top:175px;width:76px;height:17px;background:#2c2a3b;border:1px solid #444159;border-radius:2px;box-sizing:border-box;"></div>
<div class="a" style="left:241px;top:176px;width:1px;height:15px;background:#444159;"></div>
<svg class="a" style="left:245.1px;top:180.75px;" width="9.0" height="5.9" viewBox="0 0 9.0 5.9"><path d="M1 1 L8.0 1 L4.5 4.9 Z" fill="#57546b"/></svg>
<div class="t" style="left:187px;top:179px;color:#5f5c73;transform:scaleX(0.971);">Disabled</div>
<div class="a" style="left:264px;top:175px;width:76px;height:17px;background:#48425e;border:1px solid #3f3c54;border-radius:2px;box-sizing:border-box;"></div>
<svg class="a" style="left:327.1px;top:180.75px;" width="9.0" height="5.9" viewBox="0 0 9.0 5.9"><path d="M1 1 L8.0 1 L4.5 4.9 Z" fill="#d0cedc"/></svg>
<div class="t" style="left:269px;top:179px;color:#cbc9d8;transform:scaleX(1.015);">Not editable</div>
<div class="a" style="left:346px;top:175px;width:112px;height:17px;background:#2c2a3b;border:1px solid #444159;border-radius:2px;box-sizing:border-box;"></div>
<svg class="a" style="left:444.9px;top:180.75px;" width="9.0" height="5.9" viewBox="0 0 9.0 5.9"><path d="M1 1 L8.0 1 L4.5 4.9 Z" fill="#57546b"/></svg>
<div class="t" style="left:351px;top:179px;color:#5f5c73;transform:scaleX(1.010);">Not editable disabled</div>
<div class="a" style="left:100px;top:198px;width:76px;height:17px;background:#39364d;border:1px solid #3f3c54;border-radius:2px;box-sizing:border-box;"></div>
<div class="a" style="left:159px;top:199px;width:1px;height:15px;background:#3f3c54;"></div>
<svg class="a" style="left:163.5px;top:200px;" width="9" height="13" viewBox="0 0 9 13"><path d="M0.6 5.6 L4.1 1.4 L7.6 5.6 Z M0.6 7.5 L4.1 11.7 L7.6 7.5 Z" fill="#d0cedc"/></svg>
<div class="t" style="left:100px;top:202px;width:55px;text-align:right;color:#cbc9d8">0</div>
<div class="a" style="left:182px;top:198px;width:76px;height:17px;background:#2c2a3b;border:1px solid #444159;border-radius:2px;box-sizing:border-box;"></div>
<div class="a" style="left:241px;top:199px;width:1px;height:15px;background:#444159;"></div>
<svg class="a" style="left:245.5px;top:200px;" width="9" height="13" viewBox="0 0 9 13"><path d="M0.6 5.6 L4.1 1.4 L7.6 5.6 Z M0.6 7.5 L4.1 11.7 L7.6 7.5 Z" fill="#57546b"/></svg>
<div class="t" style="left:182px;top:202px;width:55px;text-align:right;color:#5f5c73">0</div>
<div class="a" style="left:100px;top:221px;width:76px;height:17px;background:#39364d;border:1px solid #3f3c54;border-radius:2px;box-sizing:border-box;"></div>
<div class="t" style="left:105px;top:225px;color:#cbc9d8;transform:scaleX(0.948);">Editable</div>
<div class="a" style="left:98.5px;top:219.5px;width:79.0px;height:20.0px;border:2.5px solid #8e48b8;border-radius:2.5px;box-sizing:border-box;"></div>
<div class="a" style="left:136px;top:223.5px;width:1px;height:12px;background:#c8ccd2;"></div>
<div class="a" style="left:182px;top:221px;width:76px;height:17px;background:#2c2a3b;border:1px solid #444159;border-radius:2px;box-sizing:border-box;"></div>
<div class="t" style="left:187px;top:225px;color:#5f5c73;transform:scaleX(0.971);">Disabled</div>
<div class="a" style="left:264px;top:221px;width:76px;height:17px;background:#2c2a3b;border:1px solid #3f3c54;border-radius:2px;box-sizing:border-box;"></div>
<div class="t" style="left:269px;top:225px;color:#cbc9d8;transform:scaleX(1.015);">Not editable</div>
<div class="a" style="left:346px;top:221px;width:112px;height:17px;background:#2c2a3b;border:1px solid #444159;border-radius:2px;box-sizing:border-box;"></div>
<div class="t" style="left:351px;top:225px;color:#5f5c73;transform:scaleX(1.010);">Not editable disabled</div>
<div class="a" style="left:100px;top:244px;width:76px;height:17px;background:#39364d;border:1px solid #3f3c54;border-radius:2px;box-sizing:border-box;"></div>
<svg class="a" style="left:105px;top:251.8px;" width="31.6" height="3" viewBox="0 0 31.6 3"><rect x="1.00" y="0.1" width="1.9" height="1.9" fill="#cbc9d8"/><rect x="4.50" y="0.1" width="1.9" height="1.9" fill="#cbc9d8"/><rect x="8.00" y="0.1" width="1.9" height="1.9" fill="#cbc9d8"/><rect x="11.50" y="0.1" width="1.9" height="1.9" fill="#cbc9d8"/><rect x="15.00" y="0.1" width="1.9" height="1.9" fill="#cbc9d8"/><rect x="18.50" y="0.1" width="1.9" height="1.9" fill="#cbc9d8"/><rect x="22.00" y="0.1" width="1.9" height="1.9" fill="#cbc9d8"/><rect x="25.50" y="0.1" width="1.9" height="1.9" fill="#cbc9d8"/></svg>
<div class="a" style="left:182px;top:244px;width:76px;height:17px;background:#2c2a3b;border:1px solid #444159;border-radius:2px;box-sizing:border-box;"></div>
<svg class="a" style="left:187px;top:251.8px;" width="31.6" height="3" viewBox="0 0 31.6 3"><rect x="1.00" y="0.1" width="1.9" height="1.9" fill="#5f5c73"/><rect x="4.50" y="0.1" width="1.9" height="1.9" fill="#5f5c73"/><rect x="8.00" y="0.1" width="1.9" height="1.9" fill="#5f5c73"/><rect x="11.50" y="0.1" width="1.9" height="1.9" fill="#5f5c73"/><rect x="15.00" y="0.1" width="1.9" height="1.9" fill="#5f5c73"/><rect x="18.50" y="0.1" width="1.9" height="1.9" fill="#5f5c73"/><rect x="22.00" y="0.1" width="1.9" height="1.9" fill="#5f5c73"/><rect x="25.50" y="0.1" width="1.9" height="1.9" fill="#5f5c73"/></svg>
<div class="a" style="left:264px;top:244px;width:76px;height:17px;background:#2c2a3b;border:1px solid #3f3c54;border-radius:2px;box-sizing:border-box;"></div>
<svg class="a" style="left:269px;top:251.8px;" width="46.400000000000006" height="3" viewBox="0 0 46.400000000000006 3"><rect x="1.00" y="0.1" width="1.9" height="1.9" fill="#cbc9d8"/><rect x="4.50" y="0.1" width="1.9" height="1.9" fill="#cbc9d8"/><rect x="8.00" y="0.1" width="1.9" height="1.9" fill="#cbc9d8"/><rect x="11.50" y="0.1" width="1.9" height="1.9" fill="#cbc9d8"/><rect x="15.00" y="0.1" width="1.9" height="1.9" fill="#cbc9d8"/><rect x="18.50" y="0.1" width="1.9" height="1.9" fill="#cbc9d8"/><rect x="22.00" y="0.1" width="1.9" height="1.9" fill="#cbc9d8"/><rect x="25.50" y="0.1" width="1.9" height="1.9" fill="#cbc9d8"/><rect x="29.00" y="0.1" width="1.9" height="1.9" fill="#cbc9d8"/><rect x="32.50" y="0.1" width="1.9" height="1.9" fill="#cbc9d8"/><rect x="36.00" y="0.1" width="1.9" height="1.9" fill="#cbc9d8"/><rect x="39.50" y="0.1" width="1.9" height="1.9" fill="#cbc9d8"/></svg>
<div class="a" style="left:346px;top:244px;width:112px;height:17px;background:#2c2a3b;border:1px solid #444159;border-radius:2px;box-sizing:border-box;"></div>
<svg class="a" style="left:351px;top:251.8px;" width="79.7" height="3" viewBox="0 0 79.7 3"><rect x="1.00" y="0.1" width="1.9" height="1.9" fill="#5f5c73"/><rect x="4.50" y="0.1" width="1.9" height="1.9" fill="#5f5c73"/><rect x="8.00" y="0.1" width="1.9" height="1.9" fill="#5f5c73"/><rect x="11.50" y="0.1" width="1.9" height="1.9" fill="#5f5c73"/><rect x="15.00" y="0.1" width="1.9" height="1.9" fill="#5f5c73"/><rect x="18.50" y="0.1" width="1.9" height="1.9" fill="#5f5c73"/><rect x="22.00" y="0.1" width="1.9" height="1.9" fill="#5f5c73"/><rect x="25.50" y="0.1" width="1.9" height="1.9" fill="#5f5c73"/><rect x="29.00" y="0.1" width="1.9" height="1.9" fill="#5f5c73"/><rect x="32.50" y="0.1" width="1.9" height="1.9" fill="#5f5c73"/><rect x="36.00" y="0.1" width="1.9" height="1.9" fill="#5f5c73"/><rect x="39.50" y="0.1" width="1.9" height="1.9" fill="#5f5c73"/><rect x="43.00" y="0.1" width="1.9" height="1.9" fill="#5f5c73"/><rect x="46.50" y="0.1" width="1.9" height="1.9" fill="#5f5c73"/><rect x="50.00" y="0.1" width="1.9" height="1.9" fill="#5f5c73"/><rect x="53.50" y="0.1" width="1.9" height="1.9" fill="#5f5c73"/><rect x="57.00" y="0.1" width="1.9" height="1.9" fill="#5f5c73"/><rect x="60.50" y="0.1" width="1.9" height="1.9" fill="#5f5c73"/><rect x="64.00" y="0.1" width="1.9" height="1.9" fill="#5f5c73"/><rect x="67.50" y="0.1" width="1.9" height="1.9" fill="#5f5c73"/><rect x="71.00" y="0.1" width="1.9" height="1.9" fill="#5f5c73"/></svg>
<div class="t" style="left:494px;top:65px;color:#cbc9d8;transform:scaleX(0.914);">Themes:</div>
<svg class="a" style="left:543px;top:63px;" width="12" height="12" viewBox="0 0 12 12"><path d="M6 1.4 V6.5" stroke="#c3c1d0" stroke-width="1.5"/><path d="M2.3 4.6 L9.7 4.6 L6 8.4 Z" fill="#c3c1d0"/><path d="M1.4 10 H10.6" stroke="#c3c1d0" stroke-width="1.5"/></svg>
<svg class="a" style="left:563px;top:63px;" width="12" height="12" viewBox="0 0 12 12"><circle cx="6" cy="5.6" r="5.25" fill="#e6e8eb"/><path d="M2.9 4.3 L3.3 2.7 L4.7 3.3 Q6 3.0 7.3 3.3 L8.7 2.7 L9.1 4.3 Q9.6 5 9.4 6 Q9.0 7.6 7.1 7.9 V11.2 H4.9 V7.9 Q3.0 7.6 2.6 6 Q2.4 5 2.9 4.3 Z" fill="#2c2a3b"/><path d="M2.4 8.2 Q3.4 9.7 4.9 9.4" stroke="#e6e8eb" stroke-width="0.9" fill="none"/></svg>
<div class="a" style="left:586px;top:60.5px;width:45px;height:17px;background:#39364d;border:1px solid #3f3c54;border-radius:2px;box-sizing:border-box;"></div>
<div class="t" style="left:591.5px;top:65px;color:#cbc9d8;transform:scaleX(0.960);">all</div>
<svg class="a" style="left:618.0px;top:66.35px;" width="9.0" height="5.9" viewBox="0 0 9.0 5.9"><path d="M1 1 L8.0 1 L4.5 4.9 Z" fill="#d0cedc"/></svg>
<div class="a" style="left:494px;top:81.5px;width:137.5px;height:186px;background:#2c2a3b;border:1px solid #46435a;box-sizing:border-box;"></div>
<div class="a" style="left:495px;top:82.5px;width:135.5px;height:184.0px;overflow:hidden">
<div class="t" style="left:5px;top:-11.450000000000006px;color:#cbc9d8;transform:scaleX(0.960)">DemoLaf</div>
<div class="a" style="left:3px;top:7.499999999999997px;width:121.5px;height:1px;background:#4a475e"></div>
<div class="t c" style="left:0px;top:2.4999999999999973px;width:127.4px;color:#5f5c73;transform:scaleX(0.960);transform-origin:50% 0"><span style="background:#2c2a3b;padding:0 3px">IntelliJ Themes</span></div>
<div class="t" style="left:5px;top:15.799999999999994px;color:#cbc9d8;transform:scaleX(0.960)">Arc</div>
<div class="t" style="left:5px;top:30.249999999999996px;color:#cbc9d8;transform:scaleX(0.960)">Arc - Orange</div>
<div class="t" style="left:5px;top:44.7px;color:#cbc9d8;transform:scaleX(0.960)">Arc Dark</div>
<div class="t" style="left:5px;top:59.14999999999999px;color:#cbc9d8;transform:scaleX(0.960)">Arc Dark - Orange</div>
<div class="t" style="left:5px;top:73.59999999999998px;color:#cbc9d8;transform:scaleX(0.960)">Carbon</div>
<div class="t" style="left:5px;top:88.04999999999997px;color:#cbc9d8;transform:scaleX(0.960)">Cobalt 2</div>
<div class="t" style="left:5px;top:102.49999999999996px;color:#cbc9d8;transform:scaleX(0.960)">Cyan light</div>
<div class="t" style="left:5px;top:116.94999999999995px;color:#cbc9d8;transform:scaleX(0.960)">Dark Flat</div>
<div class="a" style="left:0px;top:129.69999999999993px;width:127.5px;height:14.45px;background:#413c58"></div>
<div class="t" style="left:5px;top:131.39999999999992px;color:#d8d6e3;transform:scaleX(0.960)">Dark purple</div>
<div class="t" style="left:5px;top:145.8499999999999px;color:#cbc9d8;transform:scaleX(0.960)">Dracula</div>
<div class="t" style="left:5px;top:160.2999999999999px;color:#cbc9d8;transform:scaleX(0.960)">Gradianto Dark Fuchsia</div>
<div class="t" style="left:5px;top:174.7499999999999px;color:#cbc9d8;transform:scaleX(0.960)">Gradianto Deep Ocean</div>
<div class="a" style="left:126.5px;top:0;width:9px;height:184.0px;background:#2e2c3d"></div>
<div class="a" style="left:127.79999999999995px;top:19.099999999999994px;width:7px;height:34.099999999999994px;background:#48445e"></div>
</div>
<div class="a" style="left:9px;top:276px;width:622px;height:1px;background:#3c3a50;"></div>
<div class="a" style="left:9px;top:284px;width:90px;height:17px;background:#39364d;border:1px solid #3f3c54;border-radius:2px;box-sizing:border-box;"></div>
<div class="t" style="left:15px;top:288px;color:#cbc9d8;transform:scaleX(0.960);">Dark purple</div>
<svg class="a" style="left:86.5px;top:289.35px;" width="9.0" height="5.9" viewBox="0 0 9.0 5.9"><path d="M1 1 L8.0 1 L4.5 4.9 Z" fill="#d0cedc"/></svg>
<div class="a" style="left:107px;top:286.5px;width:11px;height:11px;background:#2f2d3f;border:1px solid #5f5c73;border-radius:1.5px;box-sizing:border-box;"></div>
<div class="t" style="left:121px;top:288px;color:#cbc9d8;transform:scaleX(1.074);">right-to-left</div>
<div class="a" style="left:176.5px;top:286.5px;width:11px;height:11px;background:#2f2d3f;border:1px solid #5f5c73;border-radius:1.5px;box-sizing:border-box;"></div>
<svg class="a" style="left:176.5px;top:286.5px;" width="11" height="11" viewBox="0 0 11 11"><path d="M2.6 5.6 L4.6 7.9 L8.4 2.8" stroke="#e2e0ea" stroke-width="1.4" fill="none"/></svg>
<div class="t" style="left:191px;top:288px;color:#cbc9d8;transform:scaleX(0.950);">enabled</div>
<div class="t" style="left:299px;top:288px;color:#cbc9d8;transform:scaleX(0.949);">(Java 1.8.0_202;  user scale factor 1.5; Segoe UI 18)</div>
<div class="a" style="left:575px;top:284px;width:56px;height:17px;background:#7b3aa6;border-radius:2px;"></div>
<div class="t c" style="left:575px;top:288px;width:56px;color:#ffffff;font-weight:bold;transform:scaleX(0.92);transform-origin:50% 0">Close</div>
</div>
</body></html>
